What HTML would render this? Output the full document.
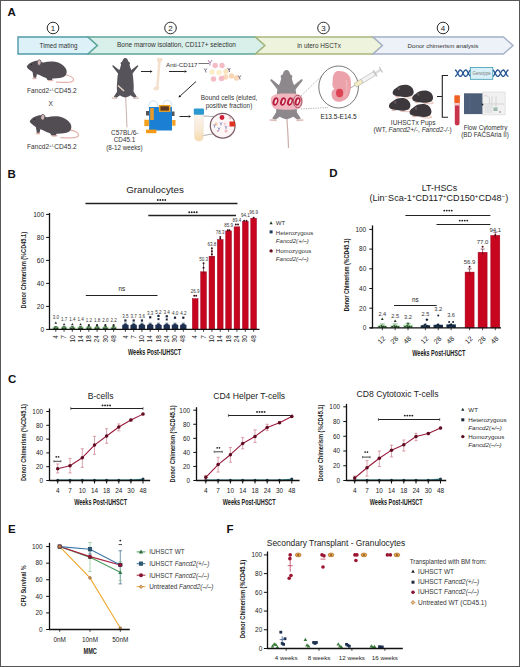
<!DOCTYPE html><html><head><meta charset="utf-8"><style>html,body{margin:0;padding:0;background:#fff;}svg{display:block;}text{font-family:"Liberation Sans", sans-serif;}</style></head><body>
<svg width="520" height="667" viewBox="0 0 520 667">
<rect x="0" y="0" width="520" height="667" fill="#fff"/>
<text x="7.50" y="15.60" font-size="11.5" text-anchor="start" fill="#111" font-weight="bold" >A</text>
<circle cx="53" cy="28" r="5.8" fill="#fff" stroke="#222" stroke-width="0.95"/>
<text x="53.00" y="30.90" font-size="8.0" text-anchor="middle" fill="#222" >1</text>
<circle cx="170.5" cy="28" r="5.8" fill="#fff" stroke="#222" stroke-width="0.95"/>
<text x="170.50" y="30.90" font-size="8.0" text-anchor="middle" fill="#222" >2</text>
<circle cx="323.5" cy="28" r="5.8" fill="#fff" stroke="#222" stroke-width="0.95"/>
<text x="323.50" y="30.90" font-size="8.0" text-anchor="middle" fill="#222" >3</text>
<circle cx="443" cy="28" r="5.8" fill="#fff" stroke="#222" stroke-width="0.95"/>
<text x="443.00" y="30.90" font-size="8.0" text-anchor="middle" fill="#222" >4</text>
<polygon points="18,37 88,37 97.5,45.5 88,54 18,54" fill="#dcf1f8" stroke="#4f9aa8" stroke-width="1.4" stroke-linejoin="miter"/>
<polygon points="88,37 255.5,37 265.0,45.5 255.5,54 88,54 97.5,45.5" fill="#d9efe9" stroke="#5fa59a" stroke-width="1.4" stroke-linejoin="miter"/>
<polygon points="255.5,37 373,37 382.5,45.5 373,54 255.5,54 265.0,45.5" fill="#eef3dd" stroke="#a9b77a" stroke-width="1.4" stroke-linejoin="miter"/>
<polygon points="373,37 503.5,37 513.0,45.5 503.5,54 373,54 382.5,45.5" fill="#edf1f8" stroke="#a4b0c6" stroke-width="1.4" stroke-linejoin="miter"/>
<text x="58.50" y="47.60" font-size="6.3" text-anchor="middle" fill="#333" >Timed mating</text>
<text x="176.50" y="47.40" font-size="6.5" text-anchor="middle" fill="#333" >Bone marrow isolation, CD117+ selection</text>
<text x="319.00" y="47.60" font-size="6.4" text-anchor="middle" fill="#333" >in utero HSCTx</text>
<text x="443.00" y="47.60" font-size="6.2" text-anchor="middle" fill="#333" >Donor chimerism analysis</text>
<g transform="translate(26 59) scale(1.0)">
<path d="M38.5,15.5 C44,16.5 47.6,18.5 47.6,21 C47.6,23.4 42,23.8 30.5,23.2" fill="none" stroke="#e3b3ab" stroke-width="1.2" stroke-linecap="round"/>
<path d="M6.5,12.5 L11,14.8 L10,19 L7.6,19 Z" fill="#514d53"/>
<ellipse cx="8.6" cy="19.3" rx="2.3" ry="0.9" fill="#e3b3ab"/>
<ellipse cx="24.5" cy="21.3" rx="3.0" ry="1.0" fill="#e3b3ab"/>
<path d="M19,17 L26.5,18.5 L26,21 L21.5,21 Z" fill="#514d53"/>
<path d="M0.7,7.5 C2,5.5 3.5,4 5.5,3.2 C7.5,2.2 10,1.5 12.5,1.8 C14.5,2.2 15.5,3.8 17.5,3.5 C21,2.6 25,2.4 29,2.8 C33.5,3.5 37.5,6 39.8,9.5 C41.5,12.5 40.8,16 38,17.8 C34.5,19.6 28,19.6 22,19.2 C18.5,18.8 16,17.5 13.5,16 C10.5,15 7,13.5 4.5,11.5 C2.8,10.5 1.2,9.2 0.7,7.5 Z" fill="#514d53"/>
<ellipse cx="13.2" cy="3.6" rx="1.9" ry="2.8" fill="#d4b8b8" stroke="#514d53" stroke-width="0.7" transform="rotate(10 13.2 3.6)"/>
<circle cx="5.4" cy="5.6" r="0.6" fill="#1a1a1a"/>
</g>
<g transform="translate(29 113.5) scale(1.04)">
<path d="M38.5,15.5 C44,16.5 47.6,18.5 47.6,21 C47.6,23.4 42,23.8 30.5,23.2" fill="none" stroke="#e3b3ab" stroke-width="1.2" stroke-linecap="round"/>
<path d="M6.5,12.5 L11,14.8 L10,19 L7.6,19 Z" fill="#514d53"/>
<ellipse cx="8.6" cy="19.3" rx="2.3" ry="0.9" fill="#e3b3ab"/>
<ellipse cx="24.5" cy="21.3" rx="3.0" ry="1.0" fill="#e3b3ab"/>
<path d="M19,17 L26.5,18.5 L26,21 L21.5,21 Z" fill="#514d53"/>
<path d="M0.7,7.5 C2,5.5 3.5,4 5.5,3.2 C7.5,2.2 10,1.5 12.5,1.8 C14.5,2.2 15.5,3.8 17.5,3.5 C21,2.6 25,2.4 29,2.8 C33.5,3.5 37.5,6 39.8,9.5 C41.5,12.5 40.8,16 38,17.8 C34.5,19.6 28,19.6 22,19.2 C18.5,18.8 16,17.5 13.5,16 C10.5,15 7,13.5 4.5,11.5 C2.8,10.5 1.2,9.2 0.7,7.5 Z" fill="#514d53"/>
<ellipse cx="13.2" cy="3.6" rx="1.9" ry="2.8" fill="#d4b8b8" stroke="#514d53" stroke-width="0.7" transform="rotate(10 13.2 3.6)"/>
<circle cx="5.4" cy="5.6" r="0.6" fill="#1a1a1a"/>
</g>
<text x="51.90" y="93.30" font-size="6.6" text-anchor="middle" fill="#333" >Fancd2<tspan font-size="4.4" dy="-2.8">+/-</tspan><tspan dy="2.8">CD45.2</tspan></text>
<text x="50.60" y="105.60" font-size="6.6" text-anchor="middle" fill="#333" >X</text>
<text x="51.90" y="149.30" font-size="6.6" text-anchor="middle" fill="#333" >Fancd2<tspan font-size="4.4" dy="-2.8">+/-</tspan><tspan dy="2.8">CD45.2</tspan></text>
<g transform="translate(125.3 58) scale(1.0)">
<path d="M0.3,38 C0.8,48 1.3,58 1.6,69" fill="none" stroke="#cdb0ac" stroke-width="1.0" stroke-linecap="round"/>
<path d="M-5.5,12.5 L-11.8,7.4 C-12.8,7 -13.4,8 -12.6,8.8 L-6.5,16.5 Z M5.5,12.5 L11.8,7.4 C12.8,7 13.4,8 12.6,8.8 L6.5,16.5 Z" fill="#56535a"/>
<path d="M-6.5,31 L-11.5,38.8 L-8.8,39.8 L-3.5,36 Z M6.5,31 L11.5,38.8 L8.8,39.8 L3.5,36 Z" fill="#56535a"/>
<path d="M-13,40 L-8.5,40.3 M13,40 L8.5,40.3" stroke="#dcbcb8" stroke-width="1.3" stroke-linecap="round"/>
<path d="M0,0 C1.6,0 2.6,1.6 3.0,3.5 C4.6,3.8 5.2,5.4 4.2,6.6 C4.6,8.6 5.2,10.5 6.2,12.5 C7.4,15 7.9,19 8.1,23 C8.4,27 8.7,30 8.2,33 C7.6,36 5,38.6 0,39.4 C-5,38.6 -7.6,36 -8.2,33 C-8.7,30 -8.4,27 -8.1,23 C-7.9,19 -7.4,15 -6.2,12.5 C-5.2,10.5 -4.6,8.6 -4.2,6.6 C-5.2,5.4 -4.6,3.8 -3.0,3.5 C-2.6,1.6 -1.6,0 0,0 Z" fill="#56535a"/>
</g>
<line x1="118.00" y1="85.50" x2="124.00" y2="91.00" stroke="#e8d8c8" stroke-width="1.4" />
<text x="124.80" y="134.60" font-size="6.5" text-anchor="middle" fill="#333" >C57BL/6-</text>
<text x="124.50" y="142.30" font-size="6.4" text-anchor="middle" fill="#333" >CD45.1</text>
<text x="124.40" y="150.20" font-size="6.3" text-anchor="middle" fill="#333" >(8-12 weeks)</text>
<line x1="141.00" y1="71.50" x2="150.10" y2="71.50" stroke="#111" stroke-width="0.9" />
<polygon points="152.50,71.50 150.10,72.82 150.10,70.18" fill="#111"/>
<path d="M157,59 C157,57 159.5,57 160,58.5 C160.8,57 163,57.5 162.6,59.5 C162.3,61 161,61.8 160.6,62.8 L158.7,86.2 C159.6,87.3 159.3,90 157.6,90.3 C156.4,90.6 153.8,90.5 153.5,89 C153.2,87.6 155,86.7 156.2,86.2 L158.1,62.6 C157.4,61.6 157,60.5 157,59 Z" fill="#f3e1cd"/>
<text x="166.00" y="66.50" font-size="6.2" text-anchor="start" fill="#333" >Anti-CD117</text>
<line x1="198.50" y1="63.50" x2="209.00" y2="63.50" stroke="#555" stroke-width="0.8" />
<path d="M208,60 L210,63 L212,60 M210,63 L210,65.5" stroke="#b070a8" stroke-width="0.9" fill="none"/>
<line x1="169.00" y1="71.50" x2="184.60" y2="71.50" stroke="#111" stroke-width="0.9" />
<polygon points="187.00,71.50 184.60,72.82 184.60,70.18" fill="#111"/>
<circle cx="212.00" cy="72.00" r="2.70" fill="#fbeec6" />
<circle cx="219.00" cy="72.50" r="2.70" fill="#fbefc8" />
<circle cx="226.00" cy="71.50" r="2.70" fill="#f9e4c0" />
<circle cx="225.50" cy="77.00" r="2.70" fill="#f8d8b8" />
<circle cx="231.50" cy="76.00" r="2.70" fill="#f8d4b4" />
<circle cx="236.50" cy="78.00" r="2.70" fill="#f8d8b8" />
<circle cx="215.20" cy="65.50" r="2.70" fill="#f5bcc6" />
<circle cx="222.00" cy="65.50" r="2.70" fill="#f5bcc6" />
<circle cx="213.50" cy="79.00" r="2.70" fill="#f5bcc6" />
<circle cx="221.50" cy="78.50" r="2.70" fill="#f5bcc6" />
<path d="M205.5,70.5 l-1.4,-2 M205.5,70.5 l1.4,-2 M205.5,70.5 l0.6,2" stroke="#5a4a6a" stroke-width="0.8" fill="none"/>
<path d="M229,70 l-1.4,-2 M229,70 l1.4,-2 M229,70 l0.6,2" stroke="#5a4a6a" stroke-width="0.8" fill="none"/>
<path d="M239.5,77.5 l-1.4,-2 M239.5,77.5 l1.4,-2 M239.5,77.5 l0.6,2" stroke="#5a4a6a" stroke-width="0.8" fill="none"/>
<line x1="196.00" y1="81.50" x2="180.27" y2="95.88" stroke="#111" stroke-width="0.9" />
<polygon points="178.50,97.50 179.38,94.91 181.16,96.85" fill="#111"/>
<path d="M149,108 C148,103 151,100.5 154,101 C157,101.5 158,104 157.5,107.5 M163,106 C162.5,102 165,100 168,100.5 C171,101 172,103.5 171.5,107" fill="none" stroke="#d8e4ee" stroke-width="1.1"/>
<rect x="146.00" y="111.00" width="3.20" height="4.50" fill="#555" />
<rect x="171.50" y="111.50" width="3.00" height="4.50" fill="#555" />
<rect x="149.10" y="107.10" width="22.90" height="23.40" fill="#1b80d4" />
<rect x="149.10" y="107.10" width="9.80" height="4.50" fill="#1b80d4" />
<rect x="158.90" y="105.00" width="11.50" height="6.90" fill="#f0a020" />
<rect x="160.40" y="106.30" width="8.50" height="4.30" fill="#5a3a24" />
<rect x="150.20" y="108.00" width="3.60" height="12.00" fill="#e89a2a" />
<rect x="144.30" y="119.70" width="4.60" height="6.40" fill="#f4a020" />
<rect x="172.20" y="120.00" width="3.30" height="5.70" fill="#f4a020" />
<rect x="146.00" y="129.60" width="10.40" height="3.60" fill="#f49a18" />
<line x1="179.50" y1="116.50" x2="188.60" y2="116.50" stroke="#111" stroke-width="0.9" />
<polygon points="191.00,116.50 188.60,117.82 188.60,115.18" fill="#111"/>
<defs><linearGradient id="tg" x1="0" y1="0" x2="0" y2="1"><stop offset="0" stop-color="#fbf4ee"/><stop offset="0.55" stop-color="#f8ead8"/><stop offset="1" stop-color="#f5d9a8"/></linearGradient></defs>
<path d="M194.5,114 L203.3,114 L203.3,137 C203.3,142.5 194.5,142.5 194.5,137 Z" fill="url(#tg)" stroke="#eadccb" stroke-width="0.4"/>
<rect x="193.80" y="108.40" width="10.20" height="6.30" fill="#2b98cf" rx="1.2"/>
<line x1="203.50" y1="116.00" x2="215.50" y2="116.50" stroke="#777" stroke-width="0.6" />
<line x1="203.50" y1="135.50" x2="214.50" y2="133.50" stroke="#777" stroke-width="0.6" />
<circle cx="222.70" cy="125.70" r="12.40" fill="#fdf6f6" stroke="#7a5a62" stroke-width="1.2"/>
<circle cx="222.00" cy="117.50" r="2.40" fill="#d0203a" />
<circle cx="216.00" cy="124.00" r="1.60" fill="#f4c8a8" />
<circle cx="226.00" cy="131.00" r="1.50" fill="#f0b8c0" />
<circle cx="230.00" cy="118.00" r="1.20" fill="#f3c0c8" />
<circle cx="218.00" cy="131.00" r="1.00" fill="#e8a0b0" />
<circle cx="225.00" cy="124.00" r="1.40" fill="#f4d0d0" />
<rect x="229.50" y="121.50" width="5.50" height="5.00" fill="#e03020" />
<path d="M214.5,126 l-1.2,-1.6 M214.5,126 l1.2,-1.6 M214.5,126 l0,1.6" stroke="#4a5ab0" stroke-width="0.6" fill="none"/>
<path d="M221,124 l-1.2,-1.6 M221,124 l1.2,-1.6 M221,124 l0,1.6" stroke="#4a5ab0" stroke-width="0.6" fill="none"/>
<path d="M226,127.5 l-1.2,-1.6 M226,127.5 l1.2,-1.6 M226,127.5 l0,1.6" stroke="#4a5ab0" stroke-width="0.6" fill="none"/>
<path d="M219,129 l-1.2,-1.6 M219,129 l1.2,-1.6 M219,129 l0,1.6" stroke="#4a5ab0" stroke-width="0.6" fill="none"/>
<text x="229.10" y="100.20" font-size="6.45" text-anchor="middle" fill="#333" >Bound cells (eluted,</text>
<text x="229.00" y="108.20" font-size="6.4" text-anchor="middle" fill="#333" >positive fraction)</text>
<g transform="translate(286.5 70) scale(1.25)">
<path d="M0.3,38 C0.8,48 1.3,51 1.6,62" fill="none" stroke="#cdb0ac" stroke-width="1.0" stroke-linecap="round"/>
<path d="M-5.5,12.5 L-11.8,7.4 C-12.8,7 -13.4,8 -12.6,8.8 L-6.5,16.5 Z M5.5,12.5 L11.8,7.4 C12.8,7 13.4,8 12.6,8.8 L6.5,16.5 Z" fill="#8c888c"/>
<path d="M-6.5,31 L-11.5,38.8 L-8.8,39.8 L-3.5,36 Z M6.5,31 L11.5,38.8 L8.8,39.8 L3.5,36 Z" fill="#8c888c"/>
<path d="M-13,40 L-8.5,40.3 M13,40 L8.5,40.3" stroke="#dcbcb8" stroke-width="1.3" stroke-linecap="round"/>
<path d="M0,0 C1.6,0 2.6,1.6 3.0,3.5 C4.6,3.8 5.2,5.4 4.2,6.6 C4.6,8.6 5.2,10.5 6.2,12.5 C7.4,15 7.9,19 8.1,23 C8.4,27 8.7,30 8.2,33 C7.6,36 5,38.6 0,39.4 C-5,38.6 -7.6,36 -8.2,33 C-8.7,30 -8.4,27 -8.1,23 C-7.9,19 -7.4,15 -6.2,12.5 C-5.2,10.5 -4.6,8.6 -4.2,6.6 C-5.2,5.4 -4.6,3.8 -3.0,3.5 C-2.6,1.6 -1.6,0 0,0 Z" fill="#8c888c"/>
</g>
<path d="M271,98 C272,94 280,93 287,93.5 C295,93 302,94 302.5,98 C303,103 302,107 299,109 C293,110 281,110 275,109 C272,107 270.5,103 271,98 Z" fill="#f1b7c0"/>
<ellipse cx="275.5" cy="101.5" rx="2.7" ry="4.3" fill="#b81e3c" transform="rotate(20 275.5 101.5)"/>
<ellipse cx="275.8" cy="101.5" rx="1.0" ry="2.6" fill="#f6dde0" transform="rotate(20 275.5 101.5)"/>
<ellipse cx="283" cy="101.5" rx="2.7" ry="4.3" fill="#b81e3c" transform="rotate(20 283 101.5)"/>
<ellipse cx="283.3" cy="101.5" rx="1.0" ry="2.6" fill="#f6dde0" transform="rotate(20 283 101.5)"/>
<ellipse cx="290" cy="101.5" rx="2.7" ry="4.3" fill="#b81e3c" transform="rotate(20 290 101.5)"/>
<ellipse cx="290.3" cy="101.5" rx="1.0" ry="2.6" fill="#f6dde0" transform="rotate(20 290 101.5)"/>
<ellipse cx="297.5" cy="101.5" rx="2.7" ry="4.3" fill="#b81e3c" transform="rotate(20 297.5 101.5)"/>
<ellipse cx="297.8" cy="101.5" rx="1.0" ry="2.6" fill="#f6dde0" transform="rotate(20 297.5 101.5)"/>
<ellipse cx="297.6" cy="101.5" rx="4.3" ry="6.2" fill="none" stroke="#7a2a3a" stroke-width="0.7"/>
<path d="M301,96 L321,76.5 M301,109 L328,107.5" stroke="#777" stroke-width="0.6" stroke-dasharray="1.2,1.2" fill="none"/>
<ellipse cx="338.6" cy="87" rx="19.8" ry="21" fill="#fff" stroke="#555" stroke-width="0.8"/>
<path d="M336,71.5 C343,70 349,73 350.5,79 C351.5,84 351,90 349.5,94 C348,99 343,102 338,101.8 C334,101.5 331.5,98 331.5,94 C331.5,91 333,89.5 334.5,88.8 C333,88 332,86 332.5,83 C333,79 332,75 336,71.5 Z" fill="#eca2aa"/>
<ellipse cx="339.6" cy="93" rx="3.6" ry="4.2" fill="#dc4454"/>
<path d="M346,80 C348,86 347,92 344,97" stroke="#f2b8be" stroke-width="1.2" fill="none"/>
<g transform="rotate(-31 350.5 88)">
<line x1="350.50" y1="88.00" x2="356.00" y2="88.00" stroke="#888" stroke-width="0.6" />
<rect x="356.00" y="85.80" width="8.00" height="4.40" fill="#f3ecc0" stroke="#aaa" stroke-width="0.5"/>
<rect x="364.00" y="85.80" width="14.50" height="4.40" fill="#f2f2f2" stroke="#aaa" stroke-width="0.5"/>
<rect x="378.50" y="84.30" width="1.30" height="7.40" fill="#c4c4c4" />
<rect x="379.80" y="87.10" width="5.50" height="1.80" fill="#e4e4e4" stroke="#aaa" stroke-width="0.3"/>
<rect x="385.30" y="84.80" width="1.30" height="6.40" fill="#c4c4c4" />
</g>
<text x="338.50" y="119.00" font-size="6.5" text-anchor="middle" fill="#222" >E13.5-E14.5</text>
<g transform="translate(391.9 84.2) scale(0.99 0.99)">
<path d="M18,11.5 C21,12 23,12.5 22,13.6 C20,14.4 15,14 12,13.6" fill="none" stroke="#e3b3ab" stroke-width="0.9"/>
<ellipse cx="5.5" cy="12.6" rx="2.4" ry="0.8" fill="#e3b3ab"/>
<path d="M0.8,9.5 C0.3,7.5 1.8,5 4.5,3.8 C7,1.2 12,0 16,0.8 C19.5,1.8 22,4.5 22,8 C22,11 19.5,12.8 15.5,13 C12,13.2 9,12.6 6.5,12.2 C4,12.2 1.4,11.4 0.8,9.5 Z" fill="#3d383b"/>
<ellipse cx="7" cy="4.6" rx="1.0" ry="1.5" fill="#6a5a60"/>
</g>
<g transform="translate(411.5 90.0) scale(0.98 0.98)">
<path d="M18,11.5 C21,12 23,12.5 22,13.6 C20,14.4 15,14 12,13.6" fill="none" stroke="#e3b3ab" stroke-width="0.9"/>
<ellipse cx="5.5" cy="12.6" rx="2.4" ry="0.8" fill="#e3b3ab"/>
<path d="M0.8,9.5 C0.3,7.5 1.8,5 4.5,3.8 C7,1.2 12,0 16,0.8 C19.5,1.8 22,4.5 22,8 C22,11 19.5,12.8 15.5,13 C12,13.2 9,12.6 6.5,12.2 C4,12.2 1.4,11.4 0.8,9.5 Z" fill="#3d383b"/>
<ellipse cx="7" cy="4.6" rx="1.0" ry="1.5" fill="#6a5a60"/>
</g>
<g transform="translate(388.2 97.5) scale(1.01 1.01)">
<path d="M18,11.5 C21,12 23,12.5 22,13.6 C20,14.4 15,14 12,13.6" fill="none" stroke="#e3b3ab" stroke-width="0.9"/>
<ellipse cx="5.5" cy="12.6" rx="2.4" ry="0.8" fill="#e3b3ab"/>
<path d="M0.8,9.5 C0.3,7.5 1.8,5 4.5,3.8 C7,1.2 12,0 16,0.8 C19.5,1.8 22,4.5 22,8 C22,11 19.5,12.8 15.5,13 C12,13.2 9,12.6 6.5,12.2 C4,12.2 1.4,11.4 0.8,9.5 Z" fill="#3d383b"/>
<ellipse cx="7" cy="4.6" rx="1.0" ry="1.5" fill="#6a5a60"/>
</g>
<g transform="translate(408.8 103.5) scale(1.03 1.03)">
<path d="M18,11.5 C21,12 23,12.5 22,13.6 C20,14.4 15,14 12,13.6" fill="none" stroke="#e3b3ab" stroke-width="0.9"/>
<ellipse cx="5.5" cy="12.6" rx="2.4" ry="0.8" fill="#e3b3ab"/>
<path d="M0.8,9.5 C0.3,7.5 1.8,5 4.5,3.8 C7,1.2 12,0 16,0.8 C19.5,1.8 22,4.5 22,8 C22,11 19.5,12.8 15.5,13 C12,13.2 9,12.6 6.5,12.2 C4,12.2 1.4,11.4 0.8,9.5 Z" fill="#3d383b"/>
<ellipse cx="7" cy="4.6" rx="1.0" ry="1.5" fill="#6a5a60"/>
</g>
<text x="413.20" y="124.90" font-size="6.6" text-anchor="middle" fill="#333" >IUHSCTx Pups</text>
<text x="412.50" y="132.40" font-size="6.5" text-anchor="middle" fill="#333" >(WT, <tspan font-style="italic">Fancd2+/-</tspan>, <tspan font-style="italic">Fancd2-/-</tspan>)</text>
<path d="M448,75.5 L442.3,75.5 L442.3,117.2 L448,117.2 M437,96.5 L442.3,96.5" stroke="#222" stroke-width="1.1" fill="none"/>
<polyline points="455.00,76.40 455.40,76.31 455.80,76.05 456.20,75.63 456.60,75.08 457.00,74.42 457.40,73.70 457.80,72.95 458.20,72.21 458.60,71.53 459.00,70.94 459.40,70.47 459.80,70.16 460.20,70.01 460.60,70.04 461.00,70.24 461.40,70.61 461.80,71.12 462.20,71.75 462.60,72.45 463.00,73.20 463.40,73.95 463.80,74.65 464.20,75.28 464.60,75.79 465.00,76.16 465.40,76.36 465.80,76.39 466.20,76.24 466.60,75.93 467.00,75.46 467.40,74.87 467.80,74.19 468.20,73.45 468.60,72.70 469.00,71.98 469.40,71.32 469.80,70.77 470.20,70.35 470.60,70.09 471.00,70.00" fill="none" stroke="#1f4f90" stroke-width="1.3"/>
<polyline points="455.00,70.00 455.40,70.09 455.80,70.35 456.20,70.77 456.60,71.32 457.00,71.98 457.40,72.70 457.80,73.45 458.20,74.19 458.60,74.87 459.00,75.46 459.40,75.93 459.80,76.24 460.20,76.39 460.60,76.36 461.00,76.16 461.40,75.79 461.80,75.28 462.20,74.65 462.60,73.95 463.00,73.20 463.40,72.45 463.80,71.75 464.20,71.12 464.60,70.61 465.00,70.24 465.40,70.04 465.80,70.01 466.20,70.16 466.60,70.47 467.00,70.94 467.40,71.53 467.80,72.21 468.20,72.95 468.60,73.70 469.00,74.42 469.40,75.08 469.80,75.63 470.20,76.05 470.60,76.31 471.00,76.40" fill="none" stroke="#1f4f90" stroke-width="1.3"/>
<polyline points="492.50,76.40 492.90,76.31 493.30,76.05 493.70,75.63 494.10,75.08 494.50,74.42 494.90,73.70 495.30,72.95 495.70,72.21 496.10,71.53 496.50,70.94 496.90,70.47 497.30,70.16 497.70,70.01 498.10,70.04 498.50,70.24 498.90,70.61 499.30,71.12 499.70,71.75 500.10,72.45 500.50,73.20 500.90,73.95 501.30,74.65 501.70,75.28 502.10,75.79 502.50,76.16 502.90,76.36 503.30,76.39 503.70,76.24 504.10,75.93 504.50,75.46 504.90,74.87 505.30,74.19 505.70,73.45 506.10,72.70 506.50,71.98 506.90,71.32 507.30,70.77 507.70,70.35 508.10,70.09 508.50,70.00" fill="none" stroke="#1f4f90" stroke-width="1.3"/>
<polyline points="492.50,70.00 492.90,70.09 493.30,70.35 493.70,70.77 494.10,71.32 494.50,71.98 494.90,72.70 495.30,73.45 495.70,74.19 496.10,74.87 496.50,75.46 496.90,75.93 497.30,76.24 497.70,76.39 498.10,76.36 498.50,76.16 498.90,75.79 499.30,75.28 499.70,74.65 500.10,73.95 500.50,73.20 500.90,72.45 501.30,71.75 501.70,71.12 502.10,70.61 502.50,70.24 502.90,70.04 503.30,70.01 503.70,70.16 504.10,70.47 504.50,70.94 504.90,71.53 505.30,72.21 505.70,72.95 506.10,73.70 506.50,74.42 506.90,75.08 507.30,75.63 507.70,76.05 508.10,76.31 508.50,76.40" fill="none" stroke="#1f4f90" stroke-width="1.3"/>
<rect x="470.30" y="67.50" width="22.50" height="11.80" fill="#d9f0f8" stroke="#3a9ab0" stroke-width="0.8"/>
<text x="481.50" y="75.30" font-size="5.0" text-anchor="middle" fill="#777" textLength="18" lengthAdjust="spacingAndGlyphs" >Genotype</text>
<path d="M454.8,103 L459.5,103 L459.5,123.5 C459.5,126 454.8,126 454.8,123.5 Z" fill="#c8344a"/>
<rect x="454.80" y="103.00" width="4.70" height="2.50" fill="#f0c8c8" />
<rect x="454.30" y="95.30" width="5.60" height="7.70" fill="#ef6224" rx="0.8"/>
<rect x="464.00" y="93.30" width="18.80" height="20.80" fill="#4c5e78" />
<line x1="470.00" y1="93.50" x2="470.00" y2="114.00" stroke="#58698a" stroke-width="0.6" />
<rect x="482.80" y="92.00" width="22.30" height="22.90" fill="#f1f1f1" stroke="#d4d4d4" stroke-width="0.6"/>
<path d="M484,96 C486,95 489,96 489.5,99 L489.5,104 M492,96 L492,108 M496,96 L496,108 M484,104 L504,104" stroke="#c8c8c8" stroke-width="0.7" fill="none"/>
<rect x="484.50" y="105.00" width="8.00" height="8.00" fill="#e2e4e6" />
<rect x="493.50" y="107.50" width="4.00" height="3.50" fill="#9ab8a8" />
<circle cx="500.00" cy="112.00" r="0.80" fill="#777" />
<circle cx="482.50" cy="104.50" r="0.90" fill="#223" />
<text x="485.50" y="130.00" font-size="6.3" text-anchor="middle" fill="#333" >Flow Cytometry</text>
<text x="485.00" y="137.20" font-size="6.3" text-anchor="middle" fill="#333" >(BD FACSAria II)</text>
<text x="7.50" y="177.70" font-size="11.5" text-anchor="start" fill="#111" font-weight="bold" >B</text>
<text x="155.00" y="193.30" font-size="9.8" text-anchor="middle" fill="#222" >Granulocytes</text>
<line x1="85.50" y1="203.50" x2="237.50" y2="203.50" stroke="#222" stroke-width="1.3" />
<circle cx="157.75" cy="200.00" r="0.95" fill="#222" />
<circle cx="160.25" cy="200.00" r="0.95" fill="#222" />
<circle cx="162.75" cy="200.00" r="0.95" fill="#222" />
<circle cx="165.25" cy="200.00" r="0.95" fill="#222" />
<line x1="148.30" y1="215.50" x2="236.00" y2="215.50" stroke="#222" stroke-width="1.3" />
<circle cx="189.25" cy="212.20" r="0.95" fill="#222" />
<circle cx="191.75" cy="212.20" r="0.95" fill="#222" />
<circle cx="194.25" cy="212.20" r="0.95" fill="#222" />
<circle cx="196.75" cy="212.20" r="0.95" fill="#222" />
<line x1="85.80" y1="295.50" x2="157.50" y2="295.50" stroke="#222" stroke-width="1.1" />
<text x="121.80" y="290.90" font-size="6.3" text-anchor="middle" fill="#222" >ns</text>
<rect x="52.70" y="326.80" width="6.20" height="2.60" fill="#9ad49a" />
<line x1="54.20" y1="326.60" x2="57.40" y2="326.60" stroke="#1f3a1f" stroke-width="0.7" />
<line x1="55.80" y1="326.60" x2="55.80" y2="329.40" stroke="#1f3a1f" stroke-width="0.7" />
<polygon points="55.80,321.40 57.10,323.74 54.50,323.74" fill="#1a2a1a"/>
<polygon points="54.40,326.90 55.60,329.06 53.20,329.06" fill="#1f3a1f"/>
<polygon points="57.20,326.90 58.40,329.06 56.00,329.06" fill="#1f3a1f"/>
<text x="55.80" y="318.90" font-size="4.5" text-anchor="middle" fill="#333" >3.0</text>
<rect x="60.96" y="326.80" width="6.20" height="2.60" fill="#9ad49a" />
<line x1="62.46" y1="326.60" x2="65.66" y2="326.60" stroke="#1f3a1f" stroke-width="0.7" />
<line x1="64.06" y1="326.60" x2="64.06" y2="329.40" stroke="#1f3a1f" stroke-width="0.7" />
<polygon points="64.06,322.90 65.36,325.24 62.76,325.24" fill="#1a2a1a"/>
<polygon points="62.66,326.90 63.86,329.06 61.46,329.06" fill="#1f3a1f"/>
<polygon points="65.46,326.90 66.66,329.06 64.26,329.06" fill="#1f3a1f"/>
<text x="64.06" y="321.10" font-size="4.5" text-anchor="middle" fill="#333" >1.7</text>
<rect x="69.22" y="326.80" width="6.20" height="2.60" fill="#9ad49a" />
<line x1="70.72" y1="326.60" x2="73.92" y2="326.60" stroke="#1f3a1f" stroke-width="0.7" />
<line x1="72.32" y1="326.60" x2="72.32" y2="329.40" stroke="#1f3a1f" stroke-width="0.7" />
<polygon points="72.32,322.90 73.62,325.24 71.02,325.24" fill="#1a2a1a"/>
<polygon points="70.92,326.90 72.12,329.06 69.72,329.06" fill="#1f3a1f"/>
<polygon points="73.72,326.90 74.92,329.06 72.52,329.06" fill="#1f3a1f"/>
<text x="72.32" y="321.10" font-size="4.5" text-anchor="middle" fill="#333" >1.4</text>
<rect x="77.48" y="326.80" width="6.20" height="2.60" fill="#9ad49a" />
<line x1="78.98" y1="326.60" x2="82.18" y2="326.60" stroke="#1f3a1f" stroke-width="0.7" />
<line x1="80.58" y1="326.60" x2="80.58" y2="329.40" stroke="#1f3a1f" stroke-width="0.7" />
<polygon points="80.58,322.90 81.88,325.24 79.28,325.24" fill="#1a2a1a"/>
<polygon points="79.18,326.90 80.38,329.06 77.98,329.06" fill="#1f3a1f"/>
<polygon points="81.98,326.90 83.18,329.06 80.78,329.06" fill="#1f3a1f"/>
<text x="80.58" y="321.10" font-size="4.5" text-anchor="middle" fill="#333" >1.4</text>
<rect x="85.74" y="326.80" width="6.20" height="2.60" fill="#9ad49a" />
<line x1="87.24" y1="326.60" x2="90.44" y2="326.60" stroke="#1f3a1f" stroke-width="0.7" />
<line x1="88.84" y1="326.60" x2="88.84" y2="329.40" stroke="#1f3a1f" stroke-width="0.7" />
<circle cx="88.84" cy="325.20" r="1.10" fill="#1a2a1a" />
<polygon points="87.44,326.90 88.64,329.06 86.24,329.06" fill="#1f3a1f"/>
<polygon points="90.24,326.90 91.44,329.06 89.04,329.06" fill="#1f3a1f"/>
<text x="88.84" y="321.50" font-size="4.5" text-anchor="middle" fill="#333" >1.2</text>
<rect x="94.00" y="326.80" width="6.20" height="2.60" fill="#9ad49a" />
<line x1="95.50" y1="326.60" x2="98.70" y2="326.60" stroke="#1f3a1f" stroke-width="0.7" />
<line x1="97.10" y1="326.60" x2="97.10" y2="329.40" stroke="#1f3a1f" stroke-width="0.7" />
<circle cx="97.10" cy="325.20" r="1.10" fill="#1a2a1a" />
<polygon points="95.70,326.90 96.90,329.06 94.50,329.06" fill="#1f3a1f"/>
<polygon points="98.50,326.90 99.70,329.06 97.30,329.06" fill="#1f3a1f"/>
<text x="97.10" y="321.50" font-size="4.5" text-anchor="middle" fill="#333" >1.8</text>
<rect x="102.26" y="326.80" width="6.20" height="2.60" fill="#9ad49a" />
<line x1="103.76" y1="326.60" x2="106.96" y2="326.60" stroke="#1f3a1f" stroke-width="0.7" />
<line x1="105.36" y1="326.60" x2="105.36" y2="329.40" stroke="#1f3a1f" stroke-width="0.7" />
<circle cx="105.36" cy="325.20" r="1.10" fill="#1a2a1a" />
<polygon points="103.96,326.90 105.16,329.06 102.76,329.06" fill="#1f3a1f"/>
<polygon points="106.76,326.90 107.96,329.06 105.56,329.06" fill="#1f3a1f"/>
<text x="105.36" y="322.30" font-size="4.5" text-anchor="middle" fill="#333" >2.0</text>
<rect x="110.52" y="326.80" width="6.20" height="2.60" fill="#9ad49a" />
<line x1="112.02" y1="326.60" x2="115.22" y2="326.60" stroke="#1f3a1f" stroke-width="0.7" />
<line x1="113.62" y1="326.60" x2="113.62" y2="329.40" stroke="#1f3a1f" stroke-width="0.7" />
<circle cx="113.62" cy="325.20" r="1.10" fill="#1a2a1a" />
<polygon points="112.22,326.90 113.42,329.06 111.02,329.06" fill="#1f3a1f"/>
<polygon points="115.02,326.90 116.22,329.06 113.82,329.06" fill="#1f3a1f"/>
<text x="113.62" y="321.50" font-size="4.5" text-anchor="middle" fill="#333" >2.2</text>
<path d="M122.20,329.4 L122.20,325.59999999999997 C122.90,323.59999999999997 127.90,323.59999999999997 128.60,325.59999999999997 L128.60,329.4 Z" fill="#1d3050"/>
<line x1="123.90" y1="323.20" x2="126.90" y2="323.20" stroke="#1d3050" stroke-width="0.7" />
<line x1="125.40" y1="323.20" x2="125.40" y2="326.40" stroke="#1d3050" stroke-width="0.7" />
<rect x="124.30" y="319.40" width="2.20" height="2.20" fill="#1a2438" />
<text x="125.40" y="317.80" font-size="4.5" text-anchor="middle" fill="#333" >3.5</text>
<path d="M130.47,329.4 L130.47,325.59999999999997 C131.17,323.59999999999997 136.17,323.59999999999997 136.87,325.59999999999997 L136.87,329.4 Z" fill="#1d3050"/>
<line x1="132.17" y1="323.20" x2="135.17" y2="323.20" stroke="#1d3050" stroke-width="0.7" />
<line x1="133.67" y1="323.20" x2="133.67" y2="326.40" stroke="#1d3050" stroke-width="0.7" />
<rect x="132.57" y="319.40" width="2.20" height="2.20" fill="#1a2438" />
<text x="133.67" y="317.80" font-size="4.5" text-anchor="middle" fill="#333" >3.7</text>
<path d="M138.74,329.4 L138.74,325.59999999999997 C139.44,323.59999999999997 144.44,323.59999999999997 145.14,325.59999999999997 L145.14,329.4 Z" fill="#1d3050"/>
<line x1="140.44" y1="323.20" x2="143.44" y2="323.20" stroke="#1d3050" stroke-width="0.7" />
<line x1="141.94" y1="323.20" x2="141.94" y2="326.40" stroke="#1d3050" stroke-width="0.7" />
<rect x="140.84" y="319.40" width="2.20" height="2.20" fill="#1a2438" />
<text x="141.94" y="318.10" font-size="4.5" text-anchor="middle" fill="#333" >3.6</text>
<path d="M147.01,329.4 L147.01,325.59999999999997 C147.71,323.59999999999997 152.71,323.59999999999997 153.41,325.59999999999997 L153.41,329.4 Z" fill="#1d3050"/>
<line x1="148.71" y1="323.20" x2="151.71" y2="323.20" stroke="#1d3050" stroke-width="0.7" />
<line x1="150.21" y1="323.20" x2="150.21" y2="326.40" stroke="#1d3050" stroke-width="0.7" />
<rect x="149.11" y="316.20" width="2.20" height="2.20" fill="#1a2438" />
<text x="150.21" y="315.10" font-size="4.5" text-anchor="middle" fill="#333" >3.3</text>
<path d="M155.28,329.4 L155.28,325.59999999999997 C155.98,323.59999999999997 160.98,323.59999999999997 161.68,325.59999999999997 L161.68,329.4 Z" fill="#1d3050"/>
<line x1="156.98" y1="323.20" x2="159.98" y2="323.20" stroke="#1d3050" stroke-width="0.7" />
<line x1="158.48" y1="323.20" x2="158.48" y2="326.40" stroke="#1d3050" stroke-width="0.7" />
<rect x="157.38" y="314.80" width="2.20" height="2.20" fill="#1a2438" />
<rect x="157.48" y="318.10" width="2.00" height="2.00" fill="#1a2438" />
<text x="158.48" y="313.70" font-size="4.5" text-anchor="middle" fill="#333" >5.2</text>
<path d="M163.55,329.4 L163.55,325.59999999999997 C164.25,323.59999999999997 169.25,323.59999999999997 169.95,325.59999999999997 L169.95,329.4 Z" fill="#1d3050"/>
<line x1="165.25" y1="323.20" x2="168.25" y2="323.20" stroke="#1d3050" stroke-width="0.7" />
<line x1="166.75" y1="323.20" x2="166.75" y2="326.40" stroke="#1d3050" stroke-width="0.7" />
<rect x="165.65" y="315.20" width="2.20" height="2.20" fill="#1a2438" />
<rect x="165.75" y="318.50" width="2.00" height="2.00" fill="#1a2438" />
<text x="166.75" y="313.70" font-size="4.5" text-anchor="middle" fill="#333" >3.4</text>
<path d="M171.82,329.4 L171.82,325.59999999999997 C172.52,323.59999999999997 177.52,323.59999999999997 178.22,325.59999999999997 L178.22,329.4 Z" fill="#1d3050"/>
<line x1="173.52" y1="323.20" x2="176.52" y2="323.20" stroke="#1d3050" stroke-width="0.7" />
<line x1="175.02" y1="323.20" x2="175.02" y2="326.40" stroke="#1d3050" stroke-width="0.7" />
<rect x="173.92" y="316.60" width="2.20" height="2.20" fill="#1a2438" />
<text x="175.02" y="315.40" font-size="4.5" text-anchor="middle" fill="#333" >4.0</text>
<path d="M180.09,329.4 L180.09,325.59999999999997 C180.79,323.59999999999997 185.79,323.59999999999997 186.49,325.59999999999997 L186.49,329.4 Z" fill="#1d3050"/>
<line x1="181.79" y1="323.20" x2="184.79" y2="323.20" stroke="#1d3050" stroke-width="0.7" />
<line x1="183.29" y1="323.20" x2="183.29" y2="326.40" stroke="#1d3050" stroke-width="0.7" />
<rect x="182.19" y="316.60" width="2.20" height="2.20" fill="#1a2438" />
<text x="183.29" y="315.40" font-size="4.5" text-anchor="middle" fill="#333" >4.2</text>
<rect x="192.35" y="298.71" width="5.70" height="30.69" fill="#c8051f" stroke="#9c0020" stroke-width="0.5"/>
<circle cx="194.20" cy="295.80" r="0.95" fill="#3a0a14" />
<circle cx="196.20" cy="295.80" r="0.95" fill="#3a0a14" />
<text x="195.20" y="293.20" font-size="4.5" text-anchor="middle" fill="#333" >26.9</text>
<rect x="200.70" y="271.81" width="5.70" height="57.59" fill="#c8051f" stroke="#9c0020" stroke-width="0.5"/>
<circle cx="203.55" cy="263.20" r="0.95" fill="#3a0a14" />
<circle cx="203.55" cy="267.70" r="0.95" fill="#3a0a14" />
<line x1="203.55" y1="263.20" x2="203.55" y2="273.56" stroke="#3a0a14" stroke-width="0.6" />
<text x="203.55" y="260.70" font-size="4.5" text-anchor="middle" fill="#333" >50.3</text>
<rect x="209.05" y="256.28" width="5.70" height="73.12" fill="#c8051f" stroke="#9c0020" stroke-width="0.5"/>
<circle cx="211.90" cy="248.20" r="0.95" fill="#3a0a14" />
<circle cx="211.90" cy="251.20" r="0.95" fill="#3a0a14" />
<circle cx="211.90" cy="254.20" r="0.95" fill="#3a0a14" />
<line x1="211.90" y1="248.20" x2="211.90" y2="258.03" stroke="#3a0a14" stroke-width="0.6" />
<text x="211.90" y="245.70" font-size="4.5" text-anchor="middle" fill="#333" >63.8</text>
<rect x="217.40" y="239.60" width="5.70" height="89.79" fill="#c8051f" stroke="#9c0020" stroke-width="0.5"/>
<circle cx="220.25" cy="237.00" r="0.95" fill="#3a0a14" />
<circle cx="220.25" cy="238.80" r="0.95" fill="#3a0a14" />
<text x="220.25" y="234.00" font-size="4.5" text-anchor="middle" fill="#333" >78.3</text>
<rect x="225.75" y="230.87" width="5.70" height="98.53" fill="#c8051f" stroke="#9c0020" stroke-width="0.5"/>
<circle cx="227.80" cy="230.20" r="0.95" fill="#3a0a14" />
<circle cx="229.40" cy="230.20" r="0.95" fill="#3a0a14" />
<text x="228.60" y="226.90" font-size="4.5" text-anchor="middle" fill="#333" >85.9</text>
<rect x="234.10" y="226.84" width="5.70" height="102.56" fill="#c8051f" stroke="#9c0020" stroke-width="0.5"/>
<circle cx="235.85" cy="224.50" r="0.95" fill="#3a0a14" />
<circle cx="238.05" cy="224.50" r="0.95" fill="#3a0a14" />
<text x="236.95" y="222.00" font-size="4.5" text-anchor="middle" fill="#333" >89.4</text>
<rect x="242.45" y="221.44" width="5.70" height="107.96" fill="#c8051f" stroke="#9c0020" stroke-width="0.5"/>
<circle cx="244.10" cy="220.80" r="0.95" fill="#3a0a14" />
<circle cx="246.50" cy="220.80" r="0.95" fill="#3a0a14" />
<text x="245.30" y="217.20" font-size="4.5" text-anchor="middle" fill="#333" >94.1</text>
<rect x="250.80" y="218.21" width="5.70" height="111.19" fill="#c8051f" stroke="#9c0020" stroke-width="0.5"/>
<circle cx="253.65" cy="217.80" r="0.95" fill="#3a0a14" />
<text x="253.65" y="213.70" font-size="4.5" text-anchor="middle" fill="#333" >96.9</text>
<line x1="49.50" y1="329.85" x2="49.50" y2="212.90" stroke="#111" stroke-width="1.3" />
<line x1="46.10" y1="329.40" x2="49.50" y2="329.40" stroke="#111" stroke-width="1.0" />
<text x="44.20" y="331.70" font-size="6.6" text-anchor="end" fill="#222" >0</text>
<line x1="46.10" y1="306.40" x2="49.50" y2="306.40" stroke="#111" stroke-width="1.0" />
<text x="44.20" y="308.70" font-size="6.6" text-anchor="end" fill="#222" >20</text>
<line x1="46.10" y1="283.40" x2="49.50" y2="283.40" stroke="#111" stroke-width="1.0" />
<text x="44.20" y="285.70" font-size="6.6" text-anchor="end" fill="#222" >40</text>
<line x1="46.10" y1="260.40" x2="49.50" y2="260.40" stroke="#111" stroke-width="1.0" />
<text x="44.20" y="262.70" font-size="6.6" text-anchor="end" fill="#222" >60</text>
<line x1="46.10" y1="237.40" x2="49.50" y2="237.40" stroke="#111" stroke-width="1.0" />
<text x="44.20" y="239.70" font-size="6.6" text-anchor="end" fill="#222" >80</text>
<line x1="46.10" y1="214.40" x2="49.50" y2="214.40" stroke="#111" stroke-width="1.0" />
<text x="44.20" y="216.70" font-size="6.6" text-anchor="end" fill="#222" >100</text>
<line x1="48.90" y1="329.40" x2="259.50" y2="329.40" stroke="#111" stroke-width="1.3" />
<line x1="55.80" y1="329.40" x2="55.80" y2="331.80" stroke="#111" stroke-width="0.8" />
<text x="58.00" y="335.30" font-size="6.4" text-anchor="end" fill="#222" transform="rotate(-90 58.00 335.30)" >4</text>
<line x1="64.06" y1="329.40" x2="64.06" y2="331.80" stroke="#111" stroke-width="0.8" />
<text x="66.26" y="335.30" font-size="6.4" text-anchor="end" fill="#222" transform="rotate(-90 66.26 335.30)" >7</text>
<line x1="72.32" y1="329.40" x2="72.32" y2="331.80" stroke="#111" stroke-width="0.8" />
<text x="74.52" y="335.30" font-size="6.4" text-anchor="end" fill="#222" transform="rotate(-90 74.52 335.30)" >10</text>
<line x1="80.58" y1="329.40" x2="80.58" y2="331.80" stroke="#111" stroke-width="0.8" />
<text x="82.78" y="335.30" font-size="6.4" text-anchor="end" fill="#222" transform="rotate(-90 82.78 335.30)" >14</text>
<line x1="88.84" y1="329.40" x2="88.84" y2="331.80" stroke="#111" stroke-width="0.8" />
<text x="91.04" y="335.30" font-size="6.4" text-anchor="end" fill="#222" transform="rotate(-90 91.04 335.30)" >18</text>
<line x1="97.10" y1="329.40" x2="97.10" y2="331.80" stroke="#111" stroke-width="0.8" />
<text x="99.30" y="335.30" font-size="6.4" text-anchor="end" fill="#222" transform="rotate(-90 99.30 335.30)" >24</text>
<line x1="105.36" y1="329.40" x2="105.36" y2="331.80" stroke="#111" stroke-width="0.8" />
<text x="107.56" y="335.30" font-size="6.4" text-anchor="end" fill="#222" transform="rotate(-90 107.56 335.30)" >30</text>
<line x1="113.62" y1="329.40" x2="113.62" y2="331.80" stroke="#111" stroke-width="0.8" />
<text x="115.82" y="335.30" font-size="6.4" text-anchor="end" fill="#222" transform="rotate(-90 115.82 335.30)" >48</text>
<line x1="125.40" y1="329.40" x2="125.40" y2="331.80" stroke="#111" stroke-width="0.8" />
<text x="127.60" y="335.30" font-size="6.4" text-anchor="end" fill="#222" transform="rotate(-90 127.60 335.30)" >4</text>
<line x1="133.67" y1="329.40" x2="133.67" y2="331.80" stroke="#111" stroke-width="0.8" />
<text x="135.87" y="335.30" font-size="6.4" text-anchor="end" fill="#222" transform="rotate(-90 135.87 335.30)" >7</text>
<line x1="141.94" y1="329.40" x2="141.94" y2="331.80" stroke="#111" stroke-width="0.8" />
<text x="144.14" y="335.30" font-size="6.4" text-anchor="end" fill="#222" transform="rotate(-90 144.14 335.30)" >10</text>
<line x1="150.21" y1="329.40" x2="150.21" y2="331.80" stroke="#111" stroke-width="0.8" />
<text x="152.41" y="335.30" font-size="6.4" text-anchor="end" fill="#222" transform="rotate(-90 152.41 335.30)" >14</text>
<line x1="158.48" y1="329.40" x2="158.48" y2="331.80" stroke="#111" stroke-width="0.8" />
<text x="160.68" y="335.30" font-size="6.4" text-anchor="end" fill="#222" transform="rotate(-90 160.68 335.30)" >18</text>
<line x1="166.75" y1="329.40" x2="166.75" y2="331.80" stroke="#111" stroke-width="0.8" />
<text x="168.95" y="335.30" font-size="6.4" text-anchor="end" fill="#222" transform="rotate(-90 168.95 335.30)" >24</text>
<line x1="175.02" y1="329.40" x2="175.02" y2="331.80" stroke="#111" stroke-width="0.8" />
<text x="177.22" y="335.30" font-size="6.4" text-anchor="end" fill="#222" transform="rotate(-90 177.22 335.30)" >30</text>
<line x1="183.29" y1="329.40" x2="183.29" y2="331.80" stroke="#111" stroke-width="0.8" />
<text x="185.49" y="335.30" font-size="6.4" text-anchor="end" fill="#222" transform="rotate(-90 185.49 335.30)" >48</text>
<line x1="195.20" y1="329.40" x2="195.20" y2="331.80" stroke="#111" stroke-width="0.8" />
<text x="197.40" y="335.30" font-size="6.4" text-anchor="end" fill="#222" transform="rotate(-90 197.40 335.30)" >4</text>
<line x1="203.55" y1="329.40" x2="203.55" y2="331.80" stroke="#111" stroke-width="0.8" />
<text x="205.75" y="335.30" font-size="6.4" text-anchor="end" fill="#222" transform="rotate(-90 205.75 335.30)" >7</text>
<line x1="211.90" y1="329.40" x2="211.90" y2="331.80" stroke="#111" stroke-width="0.8" />
<text x="214.10" y="335.30" font-size="6.4" text-anchor="end" fill="#222" transform="rotate(-90 214.10 335.30)" >10</text>
<line x1="220.25" y1="329.40" x2="220.25" y2="331.80" stroke="#111" stroke-width="0.8" />
<text x="222.45" y="335.30" font-size="6.4" text-anchor="end" fill="#222" transform="rotate(-90 222.45 335.30)" >14</text>
<line x1="228.60" y1="329.40" x2="228.60" y2="331.80" stroke="#111" stroke-width="0.8" />
<text x="230.80" y="335.30" font-size="6.4" text-anchor="end" fill="#222" transform="rotate(-90 230.80 335.30)" >18</text>
<line x1="236.95" y1="329.40" x2="236.95" y2="331.80" stroke="#111" stroke-width="0.8" />
<text x="239.15" y="335.30" font-size="6.4" text-anchor="end" fill="#222" transform="rotate(-90 239.15 335.30)" >24</text>
<line x1="245.30" y1="329.40" x2="245.30" y2="331.80" stroke="#111" stroke-width="0.8" />
<text x="247.50" y="335.30" font-size="6.4" text-anchor="end" fill="#222" transform="rotate(-90 247.50 335.30)" >30</text>
<line x1="253.65" y1="329.40" x2="253.65" y2="331.80" stroke="#111" stroke-width="0.8" />
<text x="255.85" y="335.30" font-size="6.4" text-anchor="end" fill="#222" transform="rotate(-90 255.85 335.30)" >48</text>
<text x="154.60" y="354.60" font-size="8.4" text-anchor="middle" fill="#1a1a1a" font-weight="bold" textLength="53.2" lengthAdjust="spacingAndGlyphs" >Weeks Post-IUHSCT</text>
<text x="25.90" y="270.20" font-size="7.6" text-anchor="middle" fill="#1a1a1a" font-weight="bold" textLength="76.4" lengthAdjust="spacingAndGlyphs" transform="rotate(-90 25.90 270.20)" >Donor Chimerism (%CD45.1)</text>
<polygon points="271.10,221.30 272.70,224.18 269.50,224.18" fill="#1f3a1f"/>
<text x="275.80" y="224.80" font-size="6.1" text-anchor="start" fill="#333" >WT</text>
<rect x="269.60" y="230.40" width="3.00" height="3.00" fill="#1d3c5e" />
<text x="275.80" y="234.80" font-size="6.1" text-anchor="start" fill="#333" >Heterozygous</text>
<text x="275.80" y="242.90" font-size="6.1" text-anchor="start" fill="#333" font-style="italic" >Fancd2(+/–)</text>
<circle cx="271.10" cy="250.90" r="1.70" fill="#6a1020" />
<text x="275.80" y="253.30" font-size="6.1" text-anchor="start" fill="#333" >Homozygous</text>
<text x="275.80" y="260.70" font-size="6.1" text-anchor="start" fill="#333" font-style="italic" >Fancd2(–/–)</text>
<text x="329.30" y="177.30" font-size="11.5" text-anchor="start" fill="#111" font-weight="bold" >D</text>
<text x="439.50" y="190.80" font-size="8.9" text-anchor="middle" fill="#222" >LT-HSCs</text>
<text x="438.80" y="201.20" font-size="9.1" text-anchor="middle" fill="#222" >(Lin<tspan font-size="6" dy="-3.2">−</tspan><tspan dy="3.2">Sca-1</tspan><tspan font-size="6" dy="-3.2">+</tspan><tspan dy="3.2">CD117</tspan><tspan font-size="6" dy="-3.2">+</tspan><tspan dy="3.2">CD150</tspan><tspan font-size="6" dy="-3.2">+</tspan><tspan dy="3.2">CD48</tspan><tspan font-size="6" dy="-3.2">−</tspan><tspan dy="3.2">)</tspan></text>
<line x1="405.40" y1="215.50" x2="490.40" y2="215.50" stroke="#222" stroke-width="1.2" />
<circle cx="444.25" cy="210.60" r="0.95" fill="#222" />
<circle cx="446.75" cy="210.60" r="0.95" fill="#222" />
<circle cx="449.25" cy="210.60" r="0.95" fill="#222" />
<circle cx="451.75" cy="210.60" r="0.95" fill="#222" />
<line x1="436.50" y1="224.50" x2="490.40" y2="224.50" stroke="#222" stroke-width="1.2" />
<circle cx="459.75" cy="220.60" r="0.95" fill="#222" />
<circle cx="462.25" cy="220.60" r="0.95" fill="#222" />
<circle cx="464.75" cy="220.60" r="0.95" fill="#222" />
<circle cx="467.25" cy="220.60" r="0.95" fill="#222" />
<line x1="394.00" y1="305.50" x2="436.70" y2="305.50" stroke="#222" stroke-width="1.1" />
<text x="415.30" y="302.40" font-size="6.3" text-anchor="middle" fill="#222" >ns</text>
<rect x="377.55" y="325.54" width="9.50" height="2.36" fill="#a8dca8" />
<line x1="379.80" y1="324.06" x2="384.80" y2="324.06" stroke="#3a8a3a" stroke-width="0.6" />
<line x1="382.30" y1="324.06" x2="382.30" y2="327.90" stroke="#3a8a3a" stroke-width="0.6" />
<circle cx="379.30" cy="326.60" r="0.90" fill="#1f4a1f" />
<circle cx="381.30" cy="325.90" r="0.90" fill="#1f4a1f" />
<circle cx="383.80" cy="326.40" r="0.90" fill="#1f4a1f" />
<circle cx="385.60" cy="326.80" r="0.90" fill="#1f4a1f" />
<circle cx="382.30" cy="327.00" r="0.90" fill="#1f4a1f" />
<text x="382.30" y="316.04" font-size="5.6" text-anchor="middle" fill="#333" >2.4</text>
<polygon points="382.30,317.54 383.70,320.06 380.90,320.06" fill="#1f3a1f"/>
<rect x="390.40" y="325.44" width="9.50" height="2.46" fill="#a8dca8" />
<line x1="392.65" y1="323.96" x2="397.65" y2="323.96" stroke="#3a8a3a" stroke-width="0.6" />
<line x1="395.15" y1="323.96" x2="395.15" y2="327.90" stroke="#3a8a3a" stroke-width="0.6" />
<circle cx="392.15" cy="326.60" r="0.90" fill="#1f4a1f" />
<circle cx="394.15" cy="325.90" r="0.90" fill="#1f4a1f" />
<circle cx="396.65" cy="326.40" r="0.90" fill="#1f4a1f" />
<circle cx="398.45" cy="326.80" r="0.90" fill="#1f4a1f" />
<circle cx="395.15" cy="327.00" r="0.90" fill="#1f4a1f" />
<text x="395.15" y="317.94" font-size="5.6" text-anchor="middle" fill="#333" >2.5</text>
<polygon points="395.15,319.44 396.55,321.96 393.75,321.96" fill="#1f3a1f"/>
<rect x="403.25" y="324.75" width="9.50" height="3.15" fill="#a8dca8" />
<line x1="405.50" y1="323.27" x2="410.50" y2="323.27" stroke="#3a8a3a" stroke-width="0.6" />
<line x1="408.00" y1="323.27" x2="408.00" y2="327.90" stroke="#3a8a3a" stroke-width="0.6" />
<circle cx="405.00" cy="326.60" r="0.90" fill="#1f4a1f" />
<circle cx="407.00" cy="325.90" r="0.90" fill="#1f4a1f" />
<circle cx="409.50" cy="326.40" r="0.90" fill="#1f4a1f" />
<circle cx="411.30" cy="326.80" r="0.90" fill="#1f4a1f" />
<circle cx="408.00" cy="327.00" r="0.90" fill="#1f4a1f" />
<text x="408.00" y="318.75" font-size="5.6" text-anchor="middle" fill="#333" >3.2</text>
<polygon points="408.00,322.10 409.30,324.44 406.70,324.44" fill="#1f4a1f"/>
<rect x="420.65" y="325.44" width="9.50" height="2.46" fill="#1d3c5e" />
<rect x="421.50" y="325.30" width="1.80" height="1.80" fill="#0f2035" />
<rect x="423.50" y="324.30" width="1.80" height="1.80" fill="#0f2035" />
<rect x="426.00" y="324.90" width="1.80" height="1.80" fill="#0f2035" />
<rect x="427.80" y="325.50" width="1.80" height="1.80" fill="#0f2035" />
<rect x="424.50" y="323.50" width="1.80" height="1.80" fill="#0f2035" />
<polygon points="426.90,318.30 428.40,319.80 426.90,321.30 425.40,319.80" fill="#0f2035"/>
<text x="425.40" y="316.20" font-size="5.6" text-anchor="middle" fill="#333" >2.5</text>
<rect x="433.50" y="324.75" width="9.50" height="3.15" fill="#1d3c5e" />
<rect x="434.35" y="325.30" width="1.80" height="1.80" fill="#0f2035" />
<rect x="436.35" y="324.30" width="1.80" height="1.80" fill="#0f2035" />
<rect x="438.85" y="324.90" width="1.80" height="1.80" fill="#0f2035" />
<rect x="440.65" y="325.50" width="1.80" height="1.80" fill="#0f2035" />
<rect x="437.35" y="323.50" width="1.80" height="1.80" fill="#0f2035" />
<circle cx="438.25" cy="315.40" r="1.00" fill="#0f2035" />
<text x="438.25" y="310.80" font-size="5.6" text-anchor="middle" fill="#333" >3.2</text>
<rect x="446.35" y="324.35" width="9.50" height="3.55" fill="#1d3c5e" />
<rect x="447.20" y="325.30" width="1.80" height="1.80" fill="#0f2035" />
<rect x="449.20" y="324.30" width="1.80" height="1.80" fill="#0f2035" />
<rect x="451.70" y="324.90" width="1.80" height="1.80" fill="#0f2035" />
<rect x="453.50" y="325.50" width="1.80" height="1.80" fill="#0f2035" />
<rect x="450.20" y="323.50" width="1.80" height="1.80" fill="#0f2035" />
<circle cx="449.10" cy="322.10" r="1.00" fill="#0f2035" />
<circle cx="453.10" cy="322.10" r="1.00" fill="#0f2035" />
<text x="451.10" y="317.20" font-size="5.6" text-anchor="middle" fill="#333" >3.6</text>
<rect x="465.10" y="272.10" width="9.00" height="55.80" fill="#c8051f" stroke="#9c0020" stroke-width="0.5"/>
<line x1="467.60" y1="268.85" x2="471.60" y2="268.85" stroke="#5a0a18" stroke-width="0.6" />
<line x1="469.60" y1="268.85" x2="469.60" y2="274.85" stroke="#5a0a18" stroke-width="0.6" />
<circle cx="469.60" cy="266.65" r="1.00" fill="#5a0a18" />
<text x="469.60" y="263.65" font-size="6.0" text-anchor="middle" fill="#333" >56.9</text>
<rect x="478.10" y="252.31" width="9.00" height="75.59" fill="#c8051f" stroke="#9c0020" stroke-width="0.5"/>
<line x1="480.60" y1="249.06" x2="484.60" y2="249.06" stroke="#5a0a18" stroke-width="0.6" />
<line x1="482.60" y1="249.06" x2="482.60" y2="255.06" stroke="#5a0a18" stroke-width="0.6" />
<circle cx="482.60" cy="246.86" r="1.00" fill="#5a0a18" />
<text x="482.60" y="243.86" font-size="6.0" text-anchor="middle" fill="#333" >77.0</text>
<rect x="490.80" y="235.46" width="9.00" height="92.44" fill="#c8051f" stroke="#9c0020" stroke-width="0.5"/>
<line x1="493.30" y1="232.21" x2="497.30" y2="232.21" stroke="#5a0a18" stroke-width="0.6" />
<line x1="495.30" y1="232.21" x2="495.30" y2="238.21" stroke="#5a0a18" stroke-width="0.6" />
<circle cx="495.30" cy="234.91" r="1.00" fill="#5a0a18" />
<text x="495.30" y="231.61" font-size="6.0" text-anchor="middle" fill="#333" >94.1</text>
<line x1="372.50" y1="328.35" x2="372.50" y2="225.40" stroke="#111" stroke-width="1.3" />
<line x1="369.30" y1="327.90" x2="372.50" y2="327.90" stroke="#111" stroke-width="1.0" />
<text x="366.20" y="330.20" font-size="6.4" text-anchor="end" fill="#222" >0</text>
<line x1="369.30" y1="308.20" x2="372.50" y2="308.20" stroke="#111" stroke-width="1.0" />
<text x="366.20" y="310.50" font-size="6.4" text-anchor="end" fill="#222" >20</text>
<line x1="369.30" y1="288.50" x2="372.50" y2="288.50" stroke="#111" stroke-width="1.0" />
<text x="366.20" y="290.80" font-size="6.4" text-anchor="end" fill="#222" >40</text>
<line x1="369.30" y1="268.80" x2="372.50" y2="268.80" stroke="#111" stroke-width="1.0" />
<text x="366.20" y="271.10" font-size="6.4" text-anchor="end" fill="#222" >60</text>
<line x1="369.30" y1="249.10" x2="372.50" y2="249.10" stroke="#111" stroke-width="1.0" />
<text x="366.20" y="251.40" font-size="6.4" text-anchor="end" fill="#222" >80</text>
<line x1="369.30" y1="229.40" x2="372.50" y2="229.40" stroke="#111" stroke-width="1.0" />
<text x="366.20" y="231.70" font-size="6.4" text-anchor="end" fill="#222" >100</text>
<line x1="369.60" y1="327.90" x2="501.00" y2="327.90" stroke="#111" stroke-width="1.3" />
<line x1="382.30" y1="327.90" x2="382.30" y2="330.20" stroke="#111" stroke-width="0.8" />
<text x="386.00" y="339.00" font-size="7.0" text-anchor="end" fill="#222" transform="rotate(-45 386.00 339.00)" >12</text>
<line x1="395.15" y1="327.90" x2="395.15" y2="330.20" stroke="#111" stroke-width="0.8" />
<text x="398.85" y="339.00" font-size="7.0" text-anchor="end" fill="#222" transform="rotate(-45 398.85 339.00)" >28</text>
<line x1="408.00" y1="327.90" x2="408.00" y2="330.20" stroke="#111" stroke-width="0.8" />
<text x="411.70" y="339.00" font-size="7.0" text-anchor="end" fill="#222" transform="rotate(-45 411.70 339.00)" >48</text>
<line x1="425.40" y1="327.90" x2="425.40" y2="330.20" stroke="#111" stroke-width="0.8" />
<text x="429.10" y="339.00" font-size="7.0" text-anchor="end" fill="#222" transform="rotate(-45 429.10 339.00)" >12</text>
<line x1="438.25" y1="327.90" x2="438.25" y2="330.20" stroke="#111" stroke-width="0.8" />
<text x="441.95" y="339.00" font-size="7.0" text-anchor="end" fill="#222" transform="rotate(-45 441.95 339.00)" >28</text>
<line x1="451.10" y1="327.90" x2="451.10" y2="330.20" stroke="#111" stroke-width="0.8" />
<text x="454.80" y="339.00" font-size="7.0" text-anchor="end" fill="#222" transform="rotate(-45 454.80 339.00)" >48</text>
<line x1="469.60" y1="327.90" x2="469.60" y2="330.20" stroke="#111" stroke-width="0.8" />
<text x="473.30" y="339.00" font-size="7.0" text-anchor="end" fill="#222" transform="rotate(-45 473.30 339.00)" >12</text>
<line x1="482.60" y1="327.90" x2="482.60" y2="330.20" stroke="#111" stroke-width="0.8" />
<text x="486.30" y="339.00" font-size="7.0" text-anchor="end" fill="#222" transform="rotate(-45 486.30 339.00)" >28</text>
<line x1="495.30" y1="327.90" x2="495.30" y2="330.20" stroke="#111" stroke-width="0.8" />
<text x="499.00" y="339.00" font-size="7.0" text-anchor="end" fill="#222" transform="rotate(-45 499.00 339.00)" >48</text>
<text x="438.80" y="355.80" font-size="8.4" text-anchor="middle" fill="#1a1a1a" font-weight="bold" textLength="53.1" lengthAdjust="spacingAndGlyphs" >Weeks Post-IUHSCT</text>
<text x="349.30" y="274.90" font-size="7.6" text-anchor="middle" fill="#1a1a1a" font-weight="bold" textLength="72.7" lengthAdjust="spacingAndGlyphs" transform="rotate(-90 349.30 274.90)" >Donor Chimerism (%CD45.1)</text>
<text x="8.00" y="382.50" font-size="11.5" text-anchor="start" fill="#111" font-weight="bold" >C</text>
<text x="100.60" y="398.80" font-size="8.6" text-anchor="middle" fill="#222" >B-cells</text>
<line x1="70.80" y1="408.50" x2="143.00" y2="408.50" stroke="#222" stroke-width="1.2" />
<line x1="70.80" y1="407.10" x2="70.80" y2="409.90" stroke="#333" stroke-width="0.7" />
<line x1="143.00" y1="407.10" x2="143.00" y2="409.90" stroke="#333" stroke-width="0.7" />
<circle cx="102.55" cy="405.40" r="0.95" fill="#222" />
<circle cx="105.05" cy="405.40" r="0.95" fill="#222" />
<circle cx="107.55" cy="405.40" r="0.95" fill="#222" />
<circle cx="110.05" cy="405.40" r="0.95" fill="#222" />
<line x1="53.90" y1="461.30" x2="60.90" y2="461.30" stroke="#333" stroke-width="0.9" />
<line x1="53.90" y1="460.10" x2="53.90" y2="462.50" stroke="#333" stroke-width="0.6" />
<line x1="60.90" y1="460.10" x2="60.90" y2="462.50" stroke="#333" stroke-width="0.6" />
<circle cx="56.25" cy="456.80" r="0.85" fill="#222" />
<circle cx="58.55" cy="456.80" r="0.85" fill="#222" />
<polyline points="57.70,480.29 70.00,480.29 82.30,480.29 94.50,480.29 106.60,480.29 118.80,480.29 130.90,480.29 143.00,479.26" fill="none" stroke="#7fc4c8" stroke-width="1.6"/>
<polyline points="57.70,480.15 70.00,480.15 82.30,480.15 94.50,480.15 106.60,480.15 118.80,480.15 130.90,480.15 143.00,479.33" fill="none" stroke="#2c6e74" stroke-width="1.0"/>
<circle cx="57.70" cy="480.15" r="1.50" fill="#1d3c48" />
<circle cx="70.00" cy="480.15" r="1.50" fill="#1d3c48" />
<circle cx="82.30" cy="480.15" r="1.50" fill="#1d3c48" />
<circle cx="94.50" cy="480.15" r="1.50" fill="#1d3c48" />
<circle cx="106.60" cy="480.15" r="1.50" fill="#1d3c48" />
<circle cx="118.80" cy="480.15" r="1.50" fill="#1d3c48" />
<circle cx="130.90" cy="480.15" r="1.50" fill="#1d3c48" />
<circle cx="143.00" cy="479.12" r="1.50" fill="#1d3c48" />
<line x1="57.70" y1="472.91" x2="57.70" y2="463.94" stroke="#cc7d89" stroke-width="0.7" />
<line x1="56.10" y1="472.91" x2="59.30" y2="472.91" stroke="#cc7d89" stroke-width="0.7" />
<line x1="56.10" y1="463.94" x2="59.30" y2="463.94" stroke="#cc7d89" stroke-width="0.7" />
<line x1="70.00" y1="472.91" x2="70.00" y2="458.42" stroke="#cc7d89" stroke-width="0.7" />
<line x1="68.40" y1="472.91" x2="71.60" y2="472.91" stroke="#cc7d89" stroke-width="0.7" />
<line x1="68.40" y1="458.42" x2="71.60" y2="458.42" stroke="#cc7d89" stroke-width="0.7" />
<line x1="82.30" y1="467.39" x2="82.30" y2="448.76" stroke="#cc7d89" stroke-width="0.7" />
<line x1="80.70" y1="467.39" x2="83.90" y2="467.39" stroke="#cc7d89" stroke-width="0.7" />
<line x1="80.70" y1="448.76" x2="83.90" y2="448.76" stroke="#cc7d89" stroke-width="0.7" />
<line x1="94.50" y1="454.28" x2="94.50" y2="436.34" stroke="#cc7d89" stroke-width="0.7" />
<line x1="92.90" y1="454.28" x2="96.10" y2="454.28" stroke="#cc7d89" stroke-width="0.7" />
<line x1="92.90" y1="436.34" x2="96.10" y2="436.34" stroke="#cc7d89" stroke-width="0.7" />
<line x1="106.60" y1="443.24" x2="106.60" y2="428.75" stroke="#cc7d89" stroke-width="0.7" />
<line x1="105.00" y1="443.24" x2="108.20" y2="443.24" stroke="#cc7d89" stroke-width="0.7" />
<line x1="105.00" y1="428.75" x2="108.20" y2="428.75" stroke="#cc7d89" stroke-width="0.7" />
<line x1="118.80" y1="430.82" x2="118.80" y2="423.92" stroke="#cc7d89" stroke-width="0.7" />
<line x1="117.20" y1="430.82" x2="120.40" y2="430.82" stroke="#cc7d89" stroke-width="0.7" />
<line x1="117.20" y1="423.92" x2="120.40" y2="423.92" stroke="#cc7d89" stroke-width="0.7" />
<line x1="130.90" y1="421.16" x2="130.90" y2="419.09" stroke="#cc7d89" stroke-width="0.7" />
<line x1="129.30" y1="421.16" x2="132.50" y2="421.16" stroke="#cc7d89" stroke-width="0.7" />
<line x1="129.30" y1="419.09" x2="132.50" y2="419.09" stroke="#cc7d89" stroke-width="0.7" />
<line x1="143.00" y1="414.95" x2="143.00" y2="413.57" stroke="#cc7d89" stroke-width="0.7" />
<line x1="141.40" y1="414.95" x2="144.60" y2="414.95" stroke="#cc7d89" stroke-width="0.7" />
<line x1="141.40" y1="413.57" x2="144.60" y2="413.57" stroke="#cc7d89" stroke-width="0.7" />
<polyline points="57.70,468.84 70.00,465.67 82.30,457.73 94.50,445.10 106.60,436.00 118.80,427.02 130.90,420.06 143.00,414.12" fill="none" stroke="#9a1a3c" stroke-width="1.1" stroke-linejoin="round"/>
<circle cx="57.70" cy="468.84" r="1.75" fill="#5e0c22" />
<circle cx="70.00" cy="465.67" r="1.75" fill="#5e0c22" />
<circle cx="82.30" cy="457.73" r="1.75" fill="#5e0c22" />
<circle cx="94.50" cy="445.10" r="1.75" fill="#5e0c22" />
<circle cx="106.60" cy="436.00" r="1.75" fill="#5e0c22" />
<circle cx="118.80" cy="427.02" r="1.75" fill="#5e0c22" />
<circle cx="130.90" cy="420.06" r="1.75" fill="#5e0c22" />
<circle cx="143.00" cy="414.12" r="1.75" fill="#5e0c22" />
<line x1="49.50" y1="480.95" x2="49.50" y2="408.50" stroke="#111" stroke-width="1.3" />
<line x1="46.30" y1="480.50" x2="49.50" y2="480.50" stroke="#111" stroke-width="1.0" />
<text x="43.00" y="482.80" font-size="6.4" text-anchor="end" fill="#222" >0</text>
<line x1="46.30" y1="466.70" x2="49.50" y2="466.70" stroke="#111" stroke-width="1.0" />
<text x="43.00" y="469.00" font-size="6.4" text-anchor="end" fill="#222" >20</text>
<line x1="46.30" y1="452.90" x2="49.50" y2="452.90" stroke="#111" stroke-width="1.0" />
<text x="43.00" y="455.20" font-size="6.4" text-anchor="end" fill="#222" >40</text>
<line x1="46.30" y1="439.10" x2="49.50" y2="439.10" stroke="#111" stroke-width="1.0" />
<text x="43.00" y="441.40" font-size="6.4" text-anchor="end" fill="#222" >60</text>
<line x1="46.30" y1="425.30" x2="49.50" y2="425.30" stroke="#111" stroke-width="1.0" />
<text x="43.00" y="427.60" font-size="6.4" text-anchor="end" fill="#222" >80</text>
<line x1="46.30" y1="411.50" x2="49.50" y2="411.50" stroke="#111" stroke-width="1.0" />
<text x="43.00" y="413.80" font-size="6.4" text-anchor="end" fill="#222" >100</text>
<line x1="48.90" y1="480.50" x2="150.20" y2="480.50" stroke="#111" stroke-width="1.3" />
<line x1="57.70" y1="480.50" x2="57.70" y2="483.50" stroke="#111" stroke-width="1.0" />
<text x="57.70" y="492.70" font-size="6.4" text-anchor="middle" fill="#222" >4</text>
<line x1="70.00" y1="480.50" x2="70.00" y2="483.50" stroke="#111" stroke-width="1.0" />
<text x="70.00" y="492.70" font-size="6.4" text-anchor="middle" fill="#222" >7</text>
<line x1="82.30" y1="480.50" x2="82.30" y2="483.50" stroke="#111" stroke-width="1.0" />
<text x="82.30" y="492.70" font-size="6.4" text-anchor="middle" fill="#222" >10</text>
<line x1="94.50" y1="480.50" x2="94.50" y2="483.50" stroke="#111" stroke-width="1.0" />
<text x="94.50" y="492.70" font-size="6.4" text-anchor="middle" fill="#222" >14</text>
<line x1="106.60" y1="480.50" x2="106.60" y2="483.50" stroke="#111" stroke-width="1.0" />
<text x="106.60" y="492.70" font-size="6.4" text-anchor="middle" fill="#222" >18</text>
<line x1="118.80" y1="480.50" x2="118.80" y2="483.50" stroke="#111" stroke-width="1.0" />
<text x="118.80" y="492.70" font-size="6.4" text-anchor="middle" fill="#222" >24</text>
<line x1="130.90" y1="480.50" x2="130.90" y2="483.50" stroke="#111" stroke-width="1.0" />
<text x="130.90" y="492.70" font-size="6.4" text-anchor="middle" fill="#222" >30</text>
<line x1="143.00" y1="480.50" x2="143.00" y2="483.50" stroke="#111" stroke-width="1.0" />
<text x="143.00" y="492.70" font-size="6.4" text-anchor="middle" fill="#222" >48</text>
<text x="100.60" y="504.90" font-size="8.4" text-anchor="middle" fill="#1a1a1a" font-weight="bold" textLength="52.8" lengthAdjust="spacingAndGlyphs" >Weeks Post-IUHSCT</text>
<text x="25.60" y="442.50" font-size="7.6" text-anchor="middle" fill="#1a1a1a" font-weight="bold" textLength="77" lengthAdjust="spacingAndGlyphs" transform="rotate(-90 25.60 442.50)" >Donor Chimerism (%CD45.1)</text>
<text x="249.20" y="398.80" font-size="8.6" text-anchor="middle" fill="#222" >CD4 Helper T-cells</text>
<line x1="228.40" y1="415.50" x2="292.10" y2="415.50" stroke="#222" stroke-width="1.2" />
<line x1="228.40" y1="414.10" x2="228.40" y2="416.90" stroke="#333" stroke-width="0.7" />
<line x1="292.10" y1="414.10" x2="292.10" y2="416.90" stroke="#333" stroke-width="0.7" />
<circle cx="257.05" cy="411.90" r="0.95" fill="#222" />
<circle cx="259.55" cy="411.90" r="0.95" fill="#222" />
<circle cx="262.05" cy="411.90" r="0.95" fill="#222" />
<circle cx="264.55" cy="411.90" r="0.95" fill="#222" />
<line x1="214.20" y1="451.80" x2="222.30" y2="451.80" stroke="#333" stroke-width="0.9" />
<line x1="214.20" y1="450.60" x2="214.20" y2="453.00" stroke="#333" stroke-width="0.6" />
<line x1="222.30" y1="450.60" x2="222.30" y2="453.00" stroke="#333" stroke-width="0.6" />
<circle cx="217.15" cy="447.80" r="0.85" fill="#222" />
<circle cx="219.45" cy="447.80" r="0.85" fill="#222" />
<polyline points="205.80,480.29 218.10,480.29 230.40,480.29 242.70,480.29 255.00,480.29 267.20,480.29 279.50,480.29 291.80,479.23" fill="none" stroke="#7fc4c8" stroke-width="1.6"/>
<polyline points="205.80,480.15 218.10,480.15 230.40,480.15 242.70,480.15 255.00,480.15 267.20,480.15 279.50,480.15 291.80,479.30" fill="none" stroke="#2c6e74" stroke-width="1.0"/>
<circle cx="205.80" cy="480.15" r="1.50" fill="#1d3c48" />
<circle cx="218.10" cy="480.15" r="1.50" fill="#1d3c48" />
<circle cx="230.40" cy="480.15" r="1.50" fill="#1d3c48" />
<circle cx="242.70" cy="480.15" r="1.50" fill="#1d3c48" />
<circle cx="255.00" cy="480.15" r="1.50" fill="#1d3c48" />
<circle cx="267.20" cy="480.15" r="1.50" fill="#1d3c48" />
<circle cx="279.50" cy="480.15" r="1.50" fill="#1d3c48" />
<circle cx="291.80" cy="479.09" r="1.50" fill="#1d3c48" />
<line x1="205.80" y1="479.09" x2="205.80" y2="475.58" stroke="#cc7d89" stroke-width="0.7" />
<line x1="204.20" y1="479.09" x2="207.40" y2="479.09" stroke="#cc7d89" stroke-width="0.7" />
<line x1="204.20" y1="475.58" x2="207.40" y2="475.58" stroke="#cc7d89" stroke-width="0.7" />
<line x1="218.10" y1="472.06" x2="218.10" y2="457.30" stroke="#cc7d89" stroke-width="0.7" />
<line x1="216.50" y1="472.06" x2="219.70" y2="472.06" stroke="#cc7d89" stroke-width="0.7" />
<line x1="216.50" y1="457.30" x2="219.70" y2="457.30" stroke="#cc7d89" stroke-width="0.7" />
<line x1="230.40" y1="462.22" x2="230.40" y2="447.46" stroke="#cc7d89" stroke-width="0.7" />
<line x1="228.80" y1="462.22" x2="232.00" y2="462.22" stroke="#cc7d89" stroke-width="0.7" />
<line x1="228.80" y1="447.46" x2="232.00" y2="447.46" stroke="#cc7d89" stroke-width="0.7" />
<line x1="242.70" y1="448.87" x2="242.70" y2="437.62" stroke="#cc7d89" stroke-width="0.7" />
<line x1="241.10" y1="448.87" x2="244.30" y2="448.87" stroke="#cc7d89" stroke-width="0.7" />
<line x1="241.10" y1="437.62" x2="244.30" y2="437.62" stroke="#cc7d89" stroke-width="0.7" />
<line x1="255.00" y1="442.54" x2="255.00" y2="429.88" stroke="#cc7d89" stroke-width="0.7" />
<line x1="253.40" y1="442.54" x2="256.60" y2="442.54" stroke="#cc7d89" stroke-width="0.7" />
<line x1="253.40" y1="429.88" x2="256.60" y2="429.88" stroke="#cc7d89" stroke-width="0.7" />
<line x1="267.20" y1="430.59" x2="267.20" y2="424.26" stroke="#cc7d89" stroke-width="0.7" />
<line x1="265.60" y1="430.59" x2="268.80" y2="430.59" stroke="#cc7d89" stroke-width="0.7" />
<line x1="265.60" y1="424.26" x2="268.80" y2="424.26" stroke="#cc7d89" stroke-width="0.7" />
<line x1="279.50" y1="423.56" x2="279.50" y2="421.45" stroke="#cc7d89" stroke-width="0.7" />
<line x1="277.90" y1="423.56" x2="281.10" y2="423.56" stroke="#cc7d89" stroke-width="0.7" />
<line x1="277.90" y1="421.45" x2="281.10" y2="421.45" stroke="#cc7d89" stroke-width="0.7" />
<line x1="291.80" y1="417.23" x2="291.80" y2="415.82" stroke="#cc7d89" stroke-width="0.7" />
<line x1="290.20" y1="417.23" x2="293.40" y2="417.23" stroke="#cc7d89" stroke-width="0.7" />
<line x1="290.20" y1="415.82" x2="293.40" y2="415.82" stroke="#cc7d89" stroke-width="0.7" />
<polyline points="205.80,477.27 218.10,464.61 230.40,454.70 242.70,443.45 255.00,436.42 267.20,427.49 279.50,422.64 291.80,416.53" fill="none" stroke="#9a1a3c" stroke-width="1.1" stroke-linejoin="round"/>
<circle cx="205.80" cy="477.27" r="1.75" fill="#5e0c22" />
<circle cx="218.10" cy="464.61" r="1.75" fill="#5e0c22" />
<circle cx="230.40" cy="454.70" r="1.75" fill="#5e0c22" />
<circle cx="242.70" cy="443.45" r="1.75" fill="#5e0c22" />
<circle cx="255.00" cy="436.42" r="1.75" fill="#5e0c22" />
<circle cx="267.20" cy="427.49" r="1.75" fill="#5e0c22" />
<circle cx="279.50" cy="422.64" r="1.75" fill="#5e0c22" />
<circle cx="291.80" cy="416.53" r="1.75" fill="#5e0c22" />
<line x1="196.50" y1="480.95" x2="196.50" y2="407.20" stroke="#111" stroke-width="1.3" />
<line x1="193.30" y1="480.50" x2="196.50" y2="480.50" stroke="#111" stroke-width="1.0" />
<text x="190.00" y="482.80" font-size="6.4" text-anchor="end" fill="#222" >0</text>
<line x1="193.30" y1="466.44" x2="196.50" y2="466.44" stroke="#111" stroke-width="1.0" />
<text x="190.00" y="468.74" font-size="6.4" text-anchor="end" fill="#222" >20</text>
<line x1="193.30" y1="452.38" x2="196.50" y2="452.38" stroke="#111" stroke-width="1.0" />
<text x="190.00" y="454.68" font-size="6.4" text-anchor="end" fill="#222" >40</text>
<line x1="193.30" y1="438.32" x2="196.50" y2="438.32" stroke="#111" stroke-width="1.0" />
<text x="190.00" y="440.62" font-size="6.4" text-anchor="end" fill="#222" >60</text>
<line x1="193.30" y1="424.26" x2="196.50" y2="424.26" stroke="#111" stroke-width="1.0" />
<text x="190.00" y="426.56" font-size="6.4" text-anchor="end" fill="#222" >80</text>
<line x1="193.30" y1="410.20" x2="196.50" y2="410.20" stroke="#111" stroke-width="1.0" />
<text x="190.00" y="412.50" font-size="6.4" text-anchor="end" fill="#222" >100</text>
<line x1="195.90" y1="480.50" x2="299.60" y2="480.50" stroke="#111" stroke-width="1.3" />
<line x1="205.80" y1="480.50" x2="205.80" y2="483.50" stroke="#111" stroke-width="1.0" />
<text x="205.80" y="492.70" font-size="6.4" text-anchor="middle" fill="#222" >4</text>
<line x1="218.10" y1="480.50" x2="218.10" y2="483.50" stroke="#111" stroke-width="1.0" />
<text x="218.10" y="492.70" font-size="6.4" text-anchor="middle" fill="#222" >7</text>
<line x1="230.40" y1="480.50" x2="230.40" y2="483.50" stroke="#111" stroke-width="1.0" />
<text x="230.40" y="492.70" font-size="6.4" text-anchor="middle" fill="#222" >10</text>
<line x1="242.70" y1="480.50" x2="242.70" y2="483.50" stroke="#111" stroke-width="1.0" />
<text x="242.70" y="492.70" font-size="6.4" text-anchor="middle" fill="#222" >14</text>
<line x1="255.00" y1="480.50" x2="255.00" y2="483.50" stroke="#111" stroke-width="1.0" />
<text x="255.00" y="492.70" font-size="6.4" text-anchor="middle" fill="#222" >18</text>
<line x1="267.20" y1="480.50" x2="267.20" y2="483.50" stroke="#111" stroke-width="1.0" />
<text x="267.20" y="492.70" font-size="6.4" text-anchor="middle" fill="#222" >24</text>
<line x1="279.50" y1="480.50" x2="279.50" y2="483.50" stroke="#111" stroke-width="1.0" />
<text x="279.50" y="492.70" font-size="6.4" text-anchor="middle" fill="#222" >30</text>
<line x1="291.80" y1="480.50" x2="291.80" y2="483.50" stroke="#111" stroke-width="1.0" />
<text x="291.80" y="492.70" font-size="6.4" text-anchor="middle" fill="#222" >48</text>
<text x="249.20" y="504.90" font-size="8.4" text-anchor="middle" fill="#1a1a1a" font-weight="bold" textLength="52.8" lengthAdjust="spacingAndGlyphs" >Weeks Post-IUHSCT</text>
<text x="175.10" y="443.90" font-size="7.6" text-anchor="middle" fill="#1a1a1a" font-weight="bold" textLength="77" lengthAdjust="spacingAndGlyphs" transform="rotate(-90 175.10 443.90)" >Donor Chimerism (%CD45.1)</text>
<text x="397.60" y="396.50" font-size="8.6" text-anchor="middle" fill="#222" >CD8 Cytotoxic T-cells</text>
<line x1="378.40" y1="419.50" x2="439.70" y2="419.50" stroke="#222" stroke-width="1.2" />
<line x1="378.40" y1="418.10" x2="378.40" y2="420.90" stroke="#333" stroke-width="0.7" />
<line x1="439.70" y1="418.10" x2="439.70" y2="420.90" stroke="#333" stroke-width="0.7" />
<circle cx="404.85" cy="415.60" r="0.95" fill="#222" />
<circle cx="407.35" cy="415.60" r="0.95" fill="#222" />
<circle cx="409.85" cy="415.60" r="0.95" fill="#222" />
<circle cx="412.35" cy="415.60" r="0.95" fill="#222" />
<line x1="362.50" y1="457.10" x2="370.10" y2="457.10" stroke="#333" stroke-width="0.9" />
<line x1="362.50" y1="455.90" x2="362.50" y2="458.30" stroke="#333" stroke-width="0.6" />
<line x1="370.10" y1="455.90" x2="370.10" y2="458.30" stroke="#333" stroke-width="0.6" />
<circle cx="365.15" cy="452.10" r="0.85" fill="#222" />
<circle cx="367.45" cy="452.10" r="0.85" fill="#222" />
<polyline points="354.70,480.28 367.00,480.28 379.30,480.28 391.50,480.28 403.80,480.28 416.00,480.28 428.30,480.28 440.50,479.17" fill="none" stroke="#7fc4c8" stroke-width="1.6"/>
<polyline points="354.70,480.13 367.00,480.13 379.30,480.13 391.50,480.13 403.80,480.13 416.00,480.13 428.30,480.13 440.50,479.25" fill="none" stroke="#2c6e74" stroke-width="1.0"/>
<circle cx="354.70" cy="480.13" r="1.50" fill="#1d3c48" />
<circle cx="367.00" cy="480.13" r="1.50" fill="#1d3c48" />
<circle cx="379.30" cy="480.13" r="1.50" fill="#1d3c48" />
<circle cx="391.50" cy="480.13" r="1.50" fill="#1d3c48" />
<circle cx="403.80" cy="480.13" r="1.50" fill="#1d3c48" />
<circle cx="416.00" cy="480.13" r="1.50" fill="#1d3c48" />
<circle cx="428.30" cy="480.13" r="1.50" fill="#1d3c48" />
<circle cx="440.50" cy="479.03" r="1.50" fill="#1d3c48" />
<line x1="354.70" y1="479.76" x2="354.70" y2="476.08" stroke="#cc7d89" stroke-width="0.7" />
<line x1="353.10" y1="479.76" x2="356.30" y2="479.76" stroke="#cc7d89" stroke-width="0.7" />
<line x1="353.10" y1="476.08" x2="356.30" y2="476.08" stroke="#cc7d89" stroke-width="0.7" />
<line x1="367.00" y1="476.08" x2="367.00" y2="460.60" stroke="#cc7d89" stroke-width="0.7" />
<line x1="365.40" y1="476.08" x2="368.60" y2="476.08" stroke="#cc7d89" stroke-width="0.7" />
<line x1="365.40" y1="460.60" x2="368.60" y2="460.60" stroke="#cc7d89" stroke-width="0.7" />
<line x1="379.30" y1="466.50" x2="379.30" y2="451.02" stroke="#cc7d89" stroke-width="0.7" />
<line x1="377.70" y1="466.50" x2="380.90" y2="466.50" stroke="#cc7d89" stroke-width="0.7" />
<line x1="377.70" y1="451.02" x2="380.90" y2="451.02" stroke="#cc7d89" stroke-width="0.7" />
<line x1="391.50" y1="456.92" x2="391.50" y2="445.12" stroke="#cc7d89" stroke-width="0.7" />
<line x1="389.90" y1="456.92" x2="393.10" y2="456.92" stroke="#cc7d89" stroke-width="0.7" />
<line x1="389.90" y1="445.12" x2="393.10" y2="445.12" stroke="#cc7d89" stroke-width="0.7" />
<line x1="403.80" y1="451.02" x2="403.80" y2="439.97" stroke="#cc7d89" stroke-width="0.7" />
<line x1="402.20" y1="451.02" x2="405.40" y2="451.02" stroke="#cc7d89" stroke-width="0.7" />
<line x1="402.20" y1="439.97" x2="405.40" y2="439.97" stroke="#cc7d89" stroke-width="0.7" />
<line x1="416.00" y1="440.70" x2="416.00" y2="433.33" stroke="#cc7d89" stroke-width="0.7" />
<line x1="414.40" y1="440.70" x2="417.60" y2="440.70" stroke="#cc7d89" stroke-width="0.7" />
<line x1="414.40" y1="433.33" x2="417.60" y2="433.33" stroke="#cc7d89" stroke-width="0.7" />
<line x1="428.30" y1="434.81" x2="428.30" y2="432.60" stroke="#cc7d89" stroke-width="0.7" />
<line x1="426.70" y1="434.81" x2="429.90" y2="434.81" stroke="#cc7d89" stroke-width="0.7" />
<line x1="426.70" y1="432.60" x2="429.90" y2="432.60" stroke="#cc7d89" stroke-width="0.7" />
<line x1="440.50" y1="428.91" x2="440.50" y2="427.44" stroke="#cc7d89" stroke-width="0.7" />
<line x1="438.90" y1="428.91" x2="442.10" y2="428.91" stroke="#cc7d89" stroke-width="0.7" />
<line x1="438.90" y1="427.44" x2="442.10" y2="427.44" stroke="#cc7d89" stroke-width="0.7" />
<polyline points="354.70,477.99 367.00,467.75 379.30,458.24 391.50,450.14 403.80,444.83 416.00,436.43 428.30,433.41 440.50,427.95" fill="none" stroke="#9a1a3c" stroke-width="1.1" stroke-linejoin="round"/>
<circle cx="354.70" cy="477.99" r="1.75" fill="#5e0c22" />
<circle cx="367.00" cy="467.75" r="1.75" fill="#5e0c22" />
<circle cx="379.30" cy="458.24" r="1.75" fill="#5e0c22" />
<circle cx="391.50" cy="450.14" r="1.75" fill="#5e0c22" />
<circle cx="403.80" cy="444.83" r="1.75" fill="#5e0c22" />
<circle cx="416.00" cy="436.43" r="1.75" fill="#5e0c22" />
<circle cx="428.30" cy="433.41" r="1.75" fill="#5e0c22" />
<circle cx="440.50" cy="427.95" r="1.75" fill="#5e0c22" />
<line x1="346.50" y1="480.95" x2="346.50" y2="403.80" stroke="#111" stroke-width="1.3" />
<line x1="343.30" y1="480.50" x2="346.50" y2="480.50" stroke="#111" stroke-width="1.0" />
<text x="340.00" y="482.80" font-size="6.4" text-anchor="end" fill="#222" >0</text>
<line x1="343.30" y1="465.76" x2="346.50" y2="465.76" stroke="#111" stroke-width="1.0" />
<text x="340.00" y="468.06" font-size="6.4" text-anchor="end" fill="#222" >20</text>
<line x1="343.30" y1="451.02" x2="346.50" y2="451.02" stroke="#111" stroke-width="1.0" />
<text x="340.00" y="453.32" font-size="6.4" text-anchor="end" fill="#222" >40</text>
<line x1="343.30" y1="436.28" x2="346.50" y2="436.28" stroke="#111" stroke-width="1.0" />
<text x="340.00" y="438.58" font-size="6.4" text-anchor="end" fill="#222" >60</text>
<line x1="343.30" y1="421.54" x2="346.50" y2="421.54" stroke="#111" stroke-width="1.0" />
<text x="340.00" y="423.84" font-size="6.4" text-anchor="end" fill="#222" >80</text>
<line x1="343.30" y1="406.80" x2="346.50" y2="406.80" stroke="#111" stroke-width="1.0" />
<text x="340.00" y="409.10" font-size="6.4" text-anchor="end" fill="#222" >100</text>
<line x1="345.90" y1="480.50" x2="446.20" y2="480.50" stroke="#111" stroke-width="1.3" />
<line x1="354.70" y1="480.50" x2="354.70" y2="483.50" stroke="#111" stroke-width="1.0" />
<text x="354.70" y="492.70" font-size="6.4" text-anchor="middle" fill="#222" >4</text>
<line x1="367.00" y1="480.50" x2="367.00" y2="483.50" stroke="#111" stroke-width="1.0" />
<text x="367.00" y="492.70" font-size="6.4" text-anchor="middle" fill="#222" >7</text>
<line x1="379.30" y1="480.50" x2="379.30" y2="483.50" stroke="#111" stroke-width="1.0" />
<text x="379.30" y="492.70" font-size="6.4" text-anchor="middle" fill="#222" >10</text>
<line x1="391.50" y1="480.50" x2="391.50" y2="483.50" stroke="#111" stroke-width="1.0" />
<text x="391.50" y="492.70" font-size="6.4" text-anchor="middle" fill="#222" >14</text>
<line x1="403.80" y1="480.50" x2="403.80" y2="483.50" stroke="#111" stroke-width="1.0" />
<text x="403.80" y="492.70" font-size="6.4" text-anchor="middle" fill="#222" >18</text>
<line x1="416.00" y1="480.50" x2="416.00" y2="483.50" stroke="#111" stroke-width="1.0" />
<text x="416.00" y="492.70" font-size="6.4" text-anchor="middle" fill="#222" >24</text>
<line x1="428.30" y1="480.50" x2="428.30" y2="483.50" stroke="#111" stroke-width="1.0" />
<text x="428.30" y="492.70" font-size="6.4" text-anchor="middle" fill="#222" >30</text>
<line x1="440.50" y1="480.50" x2="440.50" y2="483.50" stroke="#111" stroke-width="1.0" />
<text x="440.50" y="492.70" font-size="6.4" text-anchor="middle" fill="#222" >48</text>
<text x="396.20" y="504.90" font-size="8.4" text-anchor="middle" fill="#1a1a1a" font-weight="bold" textLength="52.8" lengthAdjust="spacingAndGlyphs" >Weeks Post-IUHSCT</text>
<text x="323.10" y="443.00" font-size="7.6" text-anchor="middle" fill="#1a1a1a" font-weight="bold" textLength="77" lengthAdjust="spacingAndGlyphs" transform="rotate(-90 323.10 443.00)" >Donor Chimerism (%CD45.1)</text>
<polygon points="462.80,407.80 464.40,410.68 461.20,410.68" fill="#1d2a30"/>
<text x="468.30" y="411.50" font-size="6.2" text-anchor="start" fill="#2a2a2a" >WT</text>
<rect x="461.30" y="418.30" width="3.00" height="3.00" fill="#1d2a38" />
<text x="468.30" y="422.00" font-size="6.2" text-anchor="start" fill="#2a2a2a" >Heterozygous</text>
<text x="468.30" y="429.80" font-size="6.2" text-anchor="start" fill="#2a2a2a" font-style="italic" >Fancd2(+/–)</text>
<circle cx="462.80" cy="436.60" r="1.70" fill="#5a1020" />
<text x="468.30" y="438.70" font-size="6.2" text-anchor="start" fill="#2a2a2a" >Homozygous</text>
<text x="468.30" y="446.70" font-size="6.2" text-anchor="start" fill="#2a2a2a" font-style="italic" >Fancd2(–/–)</text>
<text x="8.00" y="533.30" font-size="11.5" text-anchor="start" fill="#111" font-weight="bold" >E</text>
<line x1="90.00" y1="571.47" x2="90.00" y2="542.46" stroke="#8cc49a" stroke-width="0.7" />
<line x1="88.20" y1="571.47" x2="91.80" y2="571.47" stroke="#8cc49a" stroke-width="0.7" />
<line x1="88.20" y1="542.46" x2="91.80" y2="542.46" stroke="#8cc49a" stroke-width="0.7" />
<line x1="120.30" y1="583.90" x2="120.30" y2="550.75" stroke="#3a6a88" stroke-width="0.7" />
<line x1="118.50" y1="583.90" x2="122.10" y2="583.90" stroke="#3a6a88" stroke-width="0.7" />
<line x1="118.50" y1="550.75" x2="122.10" y2="550.75" stroke="#3a6a88" stroke-width="0.7" />
<line x1="120.30" y1="580.59" x2="120.30" y2="561.52" stroke="#8cc49a" stroke-width="0.7" />
<line x1="118.50" y1="580.59" x2="122.10" y2="580.59" stroke="#8cc49a" stroke-width="0.7" />
<line x1="118.50" y1="561.52" x2="122.10" y2="561.52" stroke="#8cc49a" stroke-width="0.7" />
<line x1="90.00" y1="554.06" x2="90.00" y2="547.43" stroke="#3a6a88" stroke-width="0.7" />
<line x1="88.20" y1="554.06" x2="91.80" y2="554.06" stroke="#3a6a88" stroke-width="0.7" />
<line x1="88.20" y1="547.43" x2="91.80" y2="547.43" stroke="#3a6a88" stroke-width="0.7" />
<polyline points="59.70,546.60 90.00,577.94 120.30,628.09" fill="none" stroke="#f0a830" stroke-width="1.1"/>
<polyline points="59.70,546.60 90.00,557.38 120.30,572.30" fill="none" stroke="#4a9a5c" stroke-width="1.1"/>
<polyline points="59.70,546.60 90.00,556.63 120.30,564.92" fill="none" stroke="#a8203e" stroke-width="1.1"/>
<polyline points="59.70,546.60 90.00,549.17 120.30,564.92" fill="none" stroke="#3a78a8" stroke-width="1.1"/>
<polygon points="59.70,544.60 61.70,548.20 57.70,548.20" fill="#2f7a4a"/>
<polygon points="90.00,555.38 92.00,558.98 88.00,558.98" fill="#2f7a4a"/>
<polygon points="120.30,570.30 122.30,573.90 118.30,573.90" fill="#2f7a4a"/>
<rect x="57.90" y="544.80" width="3.6" height="3.6" fill="#2a5a78" stroke="#1a3a50" stroke-width="0.5"/>
<rect x="88.20" y="547.37" width="3.6" height="3.6" fill="#2a5a78" stroke="#1a3a50" stroke-width="0.5"/>
<rect x="118.50" y="563.12" width="3.6" height="3.6" fill="#2a5a78" stroke="#1a3a50" stroke-width="0.5"/>
<circle cx="59.70" cy="546.60" r="2.00" fill="#8a1232" />
<circle cx="90.00" cy="556.63" r="2.00" fill="#8a1232" />
<circle cx="120.30" cy="564.92" r="2.00" fill="#8a1232" />
<circle cx="59.70" cy="546.60" r="1.40" fill="#c89050" stroke="#8a6030" stroke-width="0.5"/>
<circle cx="90.00" cy="577.94" r="1.40" fill="#c89050" stroke="#8a6030" stroke-width="0.5"/>
<circle cx="120.30" cy="628.09" r="1.40" fill="#c89050" stroke="#8a6030" stroke-width="0.5"/>
<circle cx="120.30" cy="540.60" r="0.90" fill="#222" />
<line x1="118.60" y1="544.60" x2="122.00" y2="544.60" stroke="#333" stroke-width="0.9" />
<line x1="49.50" y1="629.95" x2="49.50" y2="542.80" stroke="#111" stroke-width="1.3" />
<line x1="46.10" y1="629.50" x2="49.50" y2="629.50" stroke="#111" stroke-width="1.0" />
<text x="42.60" y="631.80" font-size="6.4" text-anchor="end" fill="#222" >0</text>
<line x1="46.10" y1="612.92" x2="49.50" y2="612.92" stroke="#111" stroke-width="1.0" />
<text x="42.60" y="615.22" font-size="6.4" text-anchor="end" fill="#222" >20</text>
<line x1="46.10" y1="596.34" x2="49.50" y2="596.34" stroke="#111" stroke-width="1.0" />
<text x="42.60" y="598.64" font-size="6.4" text-anchor="end" fill="#222" >40</text>
<line x1="46.10" y1="579.76" x2="49.50" y2="579.76" stroke="#111" stroke-width="1.0" />
<text x="42.60" y="582.06" font-size="6.4" text-anchor="end" fill="#222" >60</text>
<line x1="46.10" y1="563.18" x2="49.50" y2="563.18" stroke="#111" stroke-width="1.0" />
<text x="42.60" y="565.48" font-size="6.4" text-anchor="end" fill="#222" >80</text>
<line x1="46.10" y1="546.60" x2="49.50" y2="546.60" stroke="#111" stroke-width="1.0" />
<text x="42.60" y="548.90" font-size="6.4" text-anchor="end" fill="#222" >100</text>
<line x1="48.90" y1="629.50" x2="129.80" y2="629.50" stroke="#111" stroke-width="1.3" />
<line x1="59.70" y1="629.50" x2="59.70" y2="631.80" stroke="#111" stroke-width="0.8" />
<text x="59.70" y="641.80" font-size="6.4" text-anchor="middle" fill="#222" >0nM</text>
<line x1="90.00" y1="629.50" x2="90.00" y2="631.80" stroke="#111" stroke-width="0.8" />
<text x="90.00" y="641.80" font-size="6.4" text-anchor="middle" fill="#222" >10nM</text>
<line x1="120.30" y1="629.50" x2="120.30" y2="631.80" stroke="#111" stroke-width="0.8" />
<text x="120.30" y="641.80" font-size="6.4" text-anchor="middle" fill="#222" >50nM</text>
<text x="90.20" y="653.80" font-size="9.0" text-anchor="middle" fill="#1a1a1a" font-weight="bold" textLength="13.4" lengthAdjust="spacingAndGlyphs" >MMC</text>
<text x="25.80" y="586.00" font-size="7.6" text-anchor="middle" fill="#1a1a1a" font-weight="bold" textLength="41.2" lengthAdjust="spacingAndGlyphs" transform="rotate(-90 25.80 586.00)" >CFU Survival %</text>
<line x1="136.70" y1="551.90" x2="145.40" y2="551.90" stroke="#4a9a5c" stroke-width="1.0" />
<polygon points="141.00,549.60 143.10,553.38 138.90,553.38" fill="#2f6a3a"/>
<text x="149.20" y="554.20" font-size="6.4" text-anchor="start" fill="#333" >IUHSCT WT</text>
<line x1="136.70" y1="563.70" x2="145.40" y2="563.70" stroke="#3a78a8" stroke-width="1.0" />
<rect x="139.2" y="561.90" width="3.6" height="3.6" fill="#2a5a78" stroke="#1a3a50" stroke-width="0.5"/>
<text x="149.20" y="566.00" font-size="6.4" text-anchor="start" fill="#333" >IUHSCT <tspan font-style="italic">Fancd2(+/–)</tspan></text>
<line x1="136.70" y1="575.20" x2="145.40" y2="575.20" stroke="#a8203e" stroke-width="1.0" />
<circle cx="141.00" cy="575.20" r="2.00" fill="#8a1232" />
<text x="149.20" y="577.50" font-size="6.4" text-anchor="start" fill="#333" >IUHSCT <tspan font-style="italic">Fancd2(–/–)</tspan></text>
<line x1="136.70" y1="586.70" x2="145.40" y2="586.70" stroke="#f0a830" stroke-width="1.0" />
<polygon points="141.00,584.90 142.80,586.70 141.00,588.50 139.20,586.70" fill="#e8b060" stroke="#8a5a30" stroke-width="0.6"/>
<text x="149.20" y="589.00" font-size="6.4" text-anchor="start" fill="#333" >Untreated <tspan font-style="italic">Fancd2(–/–)</tspan></text>
<text x="226.40" y="533.10" font-size="11.5" text-anchor="start" fill="#111" font-weight="bold" >F</text>
<text x="336.00" y="546.40" font-size="8.4" text-anchor="middle" fill="#222" >Secondary Transplant - Granulocytes</text>
<polygon points="272.60,644.23 274.40,647.47 270.80,647.47" fill="#3a7a3a"/>
<polygon points="274.20,642.36 276.00,645.60 272.40,645.60" fill="#3a7a3a"/>
<polygon points="275.80,642.82 277.60,646.06 274.00,646.06" fill="#3a7a3a"/>
<polygon points="277.40,645.16 279.20,648.40 275.60,648.40" fill="#3a7a3a"/>
<rect x="279.40" y="630.79" width="2.80" height="2.80" fill="#1d3050" />
<rect x="280.80" y="642.02" width="2.80" height="2.80" fill="#1d3050" />
<rect x="282.20" y="642.96" width="2.80" height="2.80" fill="#1d3050" />
<rect x="283.60" y="637.34" width="2.80" height="2.80" fill="#1d3050" />
<line x1="279.70" y1="639.61" x2="284.70" y2="639.61" stroke="#3a5a8a" stroke-width="0.8" />
<line x1="282.20" y1="642.88" x2="282.20" y2="636.33" stroke="#3a5a8a" stroke-width="0.8" />
<circle cx="290.20" cy="554.90" r="1.80" fill="#9a1432" />
<circle cx="289.90" cy="558.64" r="1.80" fill="#9a1432" />
<circle cx="291.00" cy="575.49" r="1.80" fill="#9a1432" />
<circle cx="289.20" cy="578.30" r="1.80" fill="#9a1432" />
<line x1="287.70" y1="565.66" x2="292.70" y2="565.66" stroke="#c04060" stroke-width="0.8" />
<line x1="290.20" y1="571.75" x2="290.20" y2="559.58" stroke="#c04060" stroke-width="0.8" />
<ellipse cx="298.20" cy="554.90" rx="2.9" ry="1.9" fill="#e8a848" stroke="#a06020" stroke-width="0.6"/>
<circle cx="298.20" cy="554.90" r="0.90" fill="#7a4a20" />
<polygon points="305.40,637.68 307.20,640.92 303.60,640.92" fill="#3a7a3a"/>
<polygon points="307.00,643.29 308.80,646.53 305.20,646.53" fill="#3a7a3a"/>
<polygon points="308.60,644.23 310.40,647.47 306.80,647.47" fill="#3a7a3a"/>
<rect x="312.20" y="641.08" width="2.80" height="2.80" fill="#1d3050" />
<rect x="313.60" y="642.02" width="2.80" height="2.80" fill="#1d3050" />
<rect x="315.00" y="641.08" width="2.80" height="2.80" fill="#1d3050" />
<circle cx="322.00" cy="554.90" r="1.80" fill="#9a1432" />
<circle cx="324.00" cy="555.84" r="1.80" fill="#9a1432" />
<circle cx="323.00" cy="567.07" r="1.80" fill="#9a1432" />
<line x1="320.50" y1="559.11" x2="325.50" y2="559.11" stroke="#c04060" stroke-width="0.8" />
<ellipse cx="331.00" cy="554.90" rx="2.9" ry="1.9" fill="#e8a848" stroke="#a06020" stroke-width="0.6"/>
<circle cx="331.00" cy="554.90" r="0.90" fill="#7a4a20" />
<polygon points="338.30,642.36 340.10,645.60 336.50,645.60" fill="#3a7a3a"/>
<polygon points="339.90,644.23 341.70,647.47 338.10,647.47" fill="#3a7a3a"/>
<polygon points="341.50,645.16 343.30,648.40 339.70,648.40" fill="#3a7a3a"/>
<rect x="345.10" y="642.96" width="2.80" height="2.80" fill="#1d3050" />
<rect x="346.50" y="643.89" width="2.80" height="2.80" fill="#1d3050" />
<rect x="347.90" y="644.83" width="2.80" height="2.80" fill="#1d3050" />
<circle cx="354.90" cy="554.90" r="1.80" fill="#9a1432" />
<circle cx="356.90" cy="554.90" r="1.80" fill="#9a1432" />
<circle cx="355.90" cy="560.52" r="1.80" fill="#9a1432" />
<ellipse cx="363.90" cy="554.90" rx="2.9" ry="1.9" fill="#e8a848" stroke="#a06020" stroke-width="0.6"/>
<circle cx="363.90" cy="554.90" r="0.90" fill="#7a4a20" />
<polygon points="371.30,644.23 373.10,647.47 369.50,647.47" fill="#3a7a3a"/>
<polygon points="372.90,645.16 374.70,648.40 371.10,648.40" fill="#3a7a3a"/>
<polygon points="374.50,644.70 376.30,647.94 372.70,647.94" fill="#3a7a3a"/>
<rect x="378.10" y="645.30" width="2.80" height="2.80" fill="#1d3050" />
<rect x="379.50" y="645.76" width="2.80" height="2.80" fill="#1d3050" />
<rect x="380.90" y="645.58" width="2.80" height="2.80" fill="#1d3050" />
<circle cx="387.40" cy="554.90" r="1.80" fill="#9a1432" />
<circle cx="390.40" cy="554.90" r="1.80" fill="#9a1432" />
<ellipse cx="396.90" cy="554.90" rx="2.9" ry="1.9" fill="#e8a848" stroke="#a06020" stroke-width="0.6"/>
<circle cx="396.90" cy="554.90" r="0.90" fill="#7a4a20" />
<line x1="267.50" y1="648.95" x2="267.50" y2="551.50" stroke="#111" stroke-width="1.3" />
<line x1="263.90" y1="648.50" x2="267.50" y2="648.50" stroke="#111" stroke-width="1.0" />
<text x="262.20" y="650.80" font-size="6.4" text-anchor="end" fill="#222" >0</text>
<line x1="263.90" y1="629.78" x2="267.50" y2="629.78" stroke="#111" stroke-width="1.0" />
<text x="262.20" y="632.08" font-size="6.4" text-anchor="end" fill="#222" >20</text>
<line x1="263.90" y1="611.06" x2="267.50" y2="611.06" stroke="#111" stroke-width="1.0" />
<text x="262.20" y="613.36" font-size="6.4" text-anchor="end" fill="#222" >40</text>
<line x1="263.90" y1="592.34" x2="267.50" y2="592.34" stroke="#111" stroke-width="1.0" />
<text x="262.20" y="594.64" font-size="6.4" text-anchor="end" fill="#222" >60</text>
<line x1="263.90" y1="573.62" x2="267.50" y2="573.62" stroke="#111" stroke-width="1.0" />
<text x="262.20" y="575.92" font-size="6.4" text-anchor="end" fill="#222" >80</text>
<line x1="263.90" y1="554.90" x2="267.50" y2="554.90" stroke="#111" stroke-width="1.0" />
<text x="262.20" y="557.20" font-size="6.4" text-anchor="end" fill="#222" >100</text>
<line x1="266.90" y1="648.50" x2="402.80" y2="648.50" stroke="#111" stroke-width="1.3" />
<line x1="286.20" y1="648.50" x2="286.20" y2="650.80" stroke="#111" stroke-width="0.8" />
<text x="286.20" y="660.10" font-size="6.2" text-anchor="middle" fill="#222" >4 weeks</text>
<line x1="319.00" y1="648.50" x2="319.00" y2="650.80" stroke="#111" stroke-width="0.8" />
<text x="319.00" y="660.10" font-size="6.2" text-anchor="middle" fill="#222" >8 weeks</text>
<line x1="351.90" y1="648.50" x2="351.90" y2="650.80" stroke="#111" stroke-width="0.8" />
<text x="351.90" y="660.10" font-size="6.2" text-anchor="middle" fill="#222" >12 weeks</text>
<line x1="384.90" y1="648.50" x2="384.90" y2="650.80" stroke="#111" stroke-width="0.8" />
<text x="384.90" y="660.10" font-size="6.2" text-anchor="middle" fill="#222" >16 weeks</text>
<text x="244.60" y="599.10" font-size="7.6" text-anchor="middle" fill="#1a1a1a" font-weight="bold" textLength="78.4" lengthAdjust="spacingAndGlyphs" transform="rotate(-90 244.60 599.10)" >Donor Chimerism (%CD45.1)</text>
<text x="409.70" y="563.80" font-size="6.3" text-anchor="start" fill="#333" >Transplanted with BM from:</text>
<polygon points="413.00,569.60 414.80,572.84 411.20,572.84" fill="#222"/>
<text x="418.10" y="573.70" font-size="6.5" text-anchor="start" fill="#333" >IUHSCT WT</text>
<rect x="411.50" y="580.70" width="3.00" height="3.00" fill="#1d2a40" />
<text x="418.10" y="584.30" font-size="6.5" text-anchor="start" fill="#333" >IUHSCT <tspan font-style="italic">Fancd2(+/–)</tspan></text>
<circle cx="413.00" cy="592.30" r="1.80" fill="#8a1232" />
<text x="418.10" y="594.40" font-size="6.5" text-anchor="start" fill="#333" >IUHSCT <tspan font-style="italic">Fancd2(–/–)</tspan></text>
<polygon points="413.00,600.60 414.90,602.50 413.00,604.40 411.10,602.50" fill="#f0c080" stroke="#8a5020" stroke-width="0.6"/>
<text x="418.10" y="604.60" font-size="6.5" text-anchor="start" fill="#333" >Untreated WT (CD45.1)</text>
<rect x="0.5" y="0.5" width="519" height="666" fill="none" stroke="#575757" stroke-width="1"/>
</svg></body></html>
